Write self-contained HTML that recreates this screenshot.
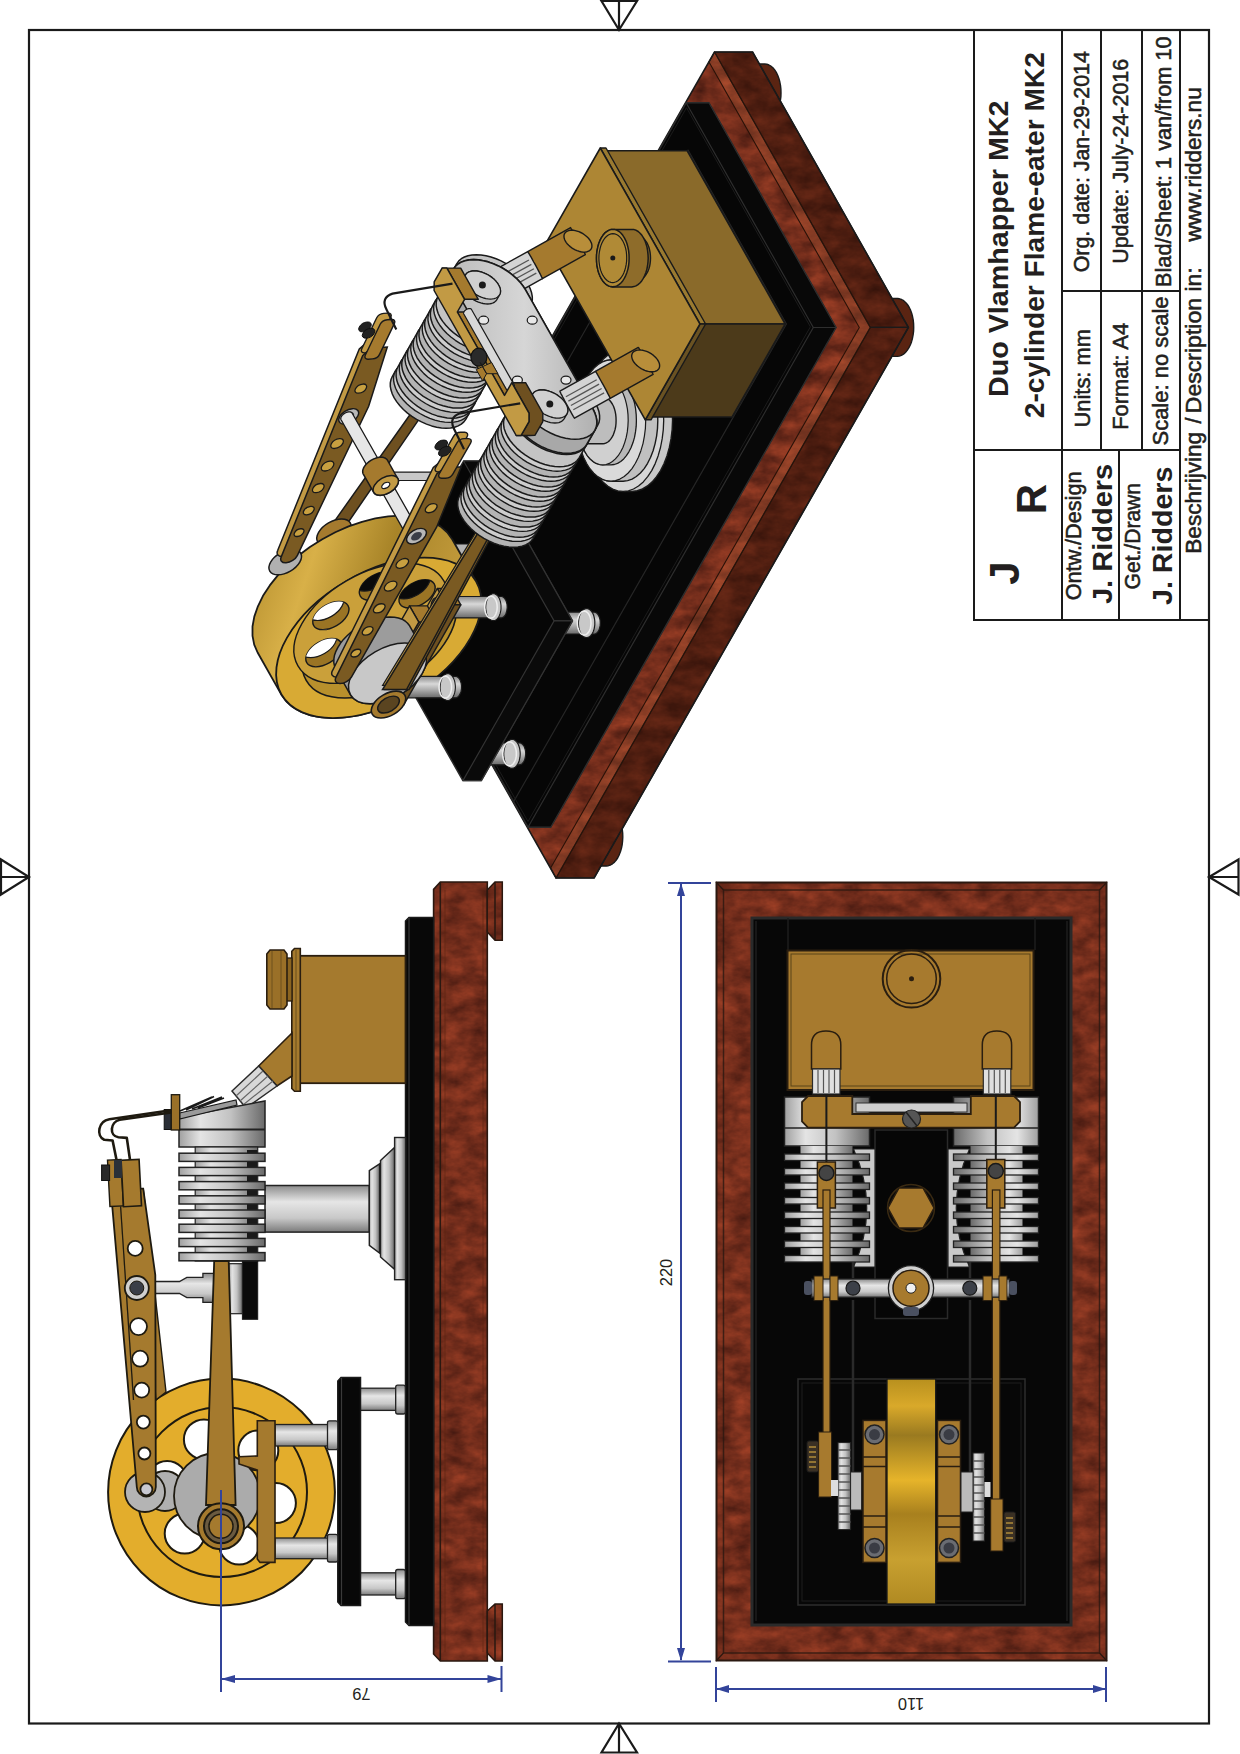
<!DOCTYPE html>
<html><head><meta charset="utf-8">
<style>
html,body{margin:0;padding:0;background:#fff;width:1240px;height:1754px;overflow:hidden}
svg{display:block;position:absolute;left:0;top:0}
#iso g *{vector-effect:non-scaling-stroke}
text{font-family:"Liberation Sans",sans-serif;fill:#231f20}
#tbtext text:not([font-weight]){stroke:#231f20;stroke-width:0.55px}
</style></head><body>
<svg width="1240" height="1754" viewBox="0 0 1240 1754">
<defs>
<filter id="wood" x="0" y="0" width="100%" height="100%" color-interpolation-filters="sRGB">
<feTurbulence type="fractalNoise" baseFrequency="0.045 0.07" numOctaves="4" seed="11" result="n"/>
<feColorMatrix in="n" type="matrix" values="0.42 0 0 0 0.25  0.18 0 0 0 0.09  0.1 0 0 0 0.06  0 0 0 0 1" result="c"/>
<feComposite in="c" in2="SourceAlpha" operator="in"/>
</filter>
<linearGradient id="silverH" x1="0" x2="1" y1="0" y2="0">
<stop offset="0" stop-color="#a0a0a0"/><stop offset="0.25" stop-color="#e4e4e4"/><stop offset="0.6" stop-color="#c2c2c2"/><stop offset="1" stop-color="#6a6a6a"/>
</linearGradient>
<linearGradient id="silverV" x1="0" x2="0" y1="0" y2="1">
<stop offset="0" stop-color="#8c8c8c"/><stop offset="0.35" stop-color="#e6e6e6"/><stop offset="0.7" stop-color="#c8c8c8"/><stop offset="1" stop-color="#7a7a7a"/>
</linearGradient>
<linearGradient id="brassFly" x1="0" x2="0" y1="0" y2="1">
<stop offset="0" stop-color="#b8901e"/><stop offset="0.12" stop-color="#d9a92a"/><stop offset="0.25" stop-color="#9a7a20"/><stop offset="0.45" stop-color="#e6b42a"/><stop offset="0.6" stop-color="#a8801e"/><stop offset="0.8" stop-color="#c8a030"/><stop offset="1" stop-color="#b08a22"/>
</linearGradient>
<linearGradient id="isoFly" x1="0" y1="0" x2="1" y2="0.3"><stop offset="0" stop-color="#b08a2a"/><stop offset="0.3" stop-color="#d8b048"/><stop offset="0.6" stop-color="#a88428"/><stop offset="1" stop-color="#c8a040"/></linearGradient>
<linearGradient id="isoSil" x1="0" y1="0" x2="0" y2="1"><stop offset="0" stop-color="#8a8a8a"/><stop offset="0.35" stop-color="#d8d8d8"/><stop offset="0.65" stop-color="#a8a8a8"/><stop offset="1" stop-color="#6a6a6a"/></linearGradient>
<linearGradient id="isoYoke" x1="0" y1="0" x2="1" y2="0"><stop offset="0" stop-color="#bdbdbd"/><stop offset="0.5" stop-color="#d6d6d6"/><stop offset="1" stop-color="#b0b0b0"/></linearGradient>
</defs>
<!-- FRAME -->
<g fill="none" stroke="#1a1a1a" stroke-width="2.2">
<rect x="29" y="30" width="1180" height="1693.5"/>
<!-- markers -->
<path d="M601.5,1 L637,1 L619,30 Z M619,1 L619,30"/>
<path d="M601.5,1752.5 L637,1752.5 L619,1723.5 Z M619,1752.5 L619,1723.5"/>
<path d="M1,859.5 L1,894.5 L29,877 Z M1,877 L29,877"/>
<path d="M1238.5,859.5 L1238.5,894.5 L1209,877 Z M1238.5,877 L1209,877"/>
</g>
<!-- VIEWS -->
<g id="iso">
<path d="M736.0,93.0 L736.1,89.2 L736.6,85.5 L737.3,81.9 L738.2,78.5 L739.4,75.3 L740.9,72.5 L742.5,70.0 L744.3,67.9 L746.2,66.2 L748.3,65.0 L750.4,64.2 L752.5,64.0 L764.7,64.0 L766.8,64.2 L768.9,65.0 L771.0,66.2 L772.9,67.8 L774.7,69.9 L776.3,72.4 L777.7,75.3 L778.9,78.4 L779.8,81.8 L780.5,85.4 L780.9,89.1 L781.0,92.9 L780.9,96.7 L780.4,100.4 L779.7,104.0 L778.8,107.3 L777.6,110.5 L776.1,113.3 L774.5,115.8 L772.7,118.0 L770.8,119.6 L768.7,120.9 L766.6,121.6 L764.5,121.9 L752.3,121.9 L750.2,121.6 L748.1,120.9 L746.0,119.7 L744.1,118.0 L742.3,115.9 L740.7,113.4 L739.3,110.6 L738.1,107.4 L737.2,104.0 L736.5,100.5 L736.1,96.8 Z" fill="#5a2412" stroke="#1a1a1a" stroke-width="1.4" stroke-linejoin="round"/>
<path d="M868.7,327.5 L868.8,323.7 L869.3,320.0 L870.0,316.4 L870.9,313.0 L872.1,309.9 L873.6,307.0 L875.2,304.5 L877.0,302.4 L878.9,300.7 L881.0,299.5 L883.1,298.8 L885.2,298.5 L897.4,298.5 L899.5,298.8 L901.6,299.5 L903.7,300.7 L905.6,302.4 L907.4,304.5 L909.0,307.0 L910.4,309.8 L911.6,312.9 L912.5,316.3 L913.2,319.9 L913.6,323.6 L913.7,327.4 L913.6,331.2 L913.1,334.9 L912.4,338.5 L911.5,341.9 L910.3,345.0 L908.8,347.9 L907.2,350.4 L905.4,352.5 L903.5,354.2 L901.4,355.4 L899.3,356.1 L897.2,356.4 L885.0,356.4 L882.9,356.1 L880.8,355.4 L878.7,354.2 L876.8,352.5 L875.0,350.4 L873.4,347.9 L872.0,345.1 L870.8,342.0 L869.9,338.6 L869.2,335.0 L868.8,331.3 Z" fill="#5a2412" stroke="#1a1a1a" stroke-width="1.4" stroke-linejoin="round"/>
<path d="M577.8,837.1 L577.9,833.3 L578.3,829.6 L579.0,826.0 L580.0,822.6 L581.2,819.5 L582.6,816.6 L584.3,814.1 L586.1,812.0 L588.0,810.3 L590.0,809.1 L592.2,808.4 L594.3,808.1 L606.5,808.1 L608.6,808.4 L610.7,809.1 L612.7,810.3 L614.7,812.0 L616.4,814.1 L618.0,816.6 L619.5,819.4 L620.6,822.5 L621.6,825.9 L622.3,829.5 L622.7,833.2 L622.8,837.0 L622.6,840.8 L622.2,844.5 L621.5,848.1 L620.5,851.5 L619.3,854.6 L617.9,857.5 L616.3,860.0 L614.5,862.1 L612.5,863.8 L610.5,865.0 L608.4,865.7 L606.2,866.0 L594.1,866.0 L592.0,865.8 L589.9,865.0 L587.8,863.8 L585.9,862.1 L584.1,860.0 L582.5,857.5 L581.1,854.7 L579.9,851.6 L579.0,848.2 L578.3,844.6 L577.9,840.9 Z" fill="#5a2412" stroke="#1a1a1a" stroke-width="1.4" stroke-linejoin="round"/>
<path d="M400.2,602.6 L714.5,52.0 L752.6,52.0 L908.4,327.4 L594.1,878.0 L556.0,878.0 Z" fill="#7a3418" filter="url(#wood)"/>
<path d="M714.5,52.0 L870.3,327.4 L908.4,327.4 L752.6,52.0 Z" fill="#1a0800" stroke="#1a1a1a" stroke-width="1.2" stroke-linejoin="round" fill-opacity="0.4"/>
<path d="M870.3,327.4 L556.0,878.0 L594.1,878.0 L908.4,327.4 Z" fill="#1a0800" stroke="#1a1a1a" stroke-width="1.2" stroke-linejoin="round" fill-opacity="0.4"/>
<path d="M709.0,61.9 L859.3,327.4 L550.6,868.1 L556.0,878.0 L870.3,327.4 L714.5,52.0 Z" fill="#e08050" stroke="#2a1208" stroke-width="1.1" stroke-linejoin="round" fill-opacity="0.18"/>
<path d="M400.2,602.6 L714.5,52.0 L752.6,52.0 L908.4,327.4 L594.1,878.0 L556.0,878.0 Z" fill="none" stroke="#1a1a1a" stroke-width="1.6"/>
<path d="M400.9,602.5 L686.1,102.8 L708.9,102.8 L836.0,327.5 L550.7,827.2 L528.0,827.2 Z" fill="#060606" stroke="#2a2a2a" stroke-width="1.5" stroke-linejoin="round"/>
<path d="M708.9,102.8 L836.0,327.5 L813.3,327.5 L686.1,102.8 Z" fill="#080808" stroke="#2e2e2e" stroke-width="1.2" stroke-linejoin="round"/>
<path d="M836.0,327.5 L550.7,827.2 L528.0,827.2 L813.3,327.5 Z" fill="#080808" stroke="#2e2e2e" stroke-width="1.2" stroke-linejoin="round"/>
<path d="M688.0,150.1 L786.4,324.0 L513.6,801.8 L415.2,627.9 Z" fill="none" stroke="#262626" stroke-width="1.2" stroke-linejoin="round"/>
<path d="M686.5,107.7 L810.4,326.8 L528.0,821.5 L404.1,602.5 Z" fill="none" stroke="#1c1c1c" stroke-width="1.0" stroke-linejoin="round"/>
<path d="M474.1,486.5 L474.1,485.0 L474.3,483.6 L474.6,482.2 L474.9,481.0 L475.4,479.8 L475.9,478.7 L476.5,477.7 L477.2,476.9 L477.9,476.3 L478.7,475.8 L479.5,475.6 L480.3,475.5 L516.8,475.5 L517.6,475.6 L518.4,475.8 L519.2,476.3 L519.9,476.9 L520.6,477.7 L521.2,478.7 L521.7,479.7 L522.2,480.9 L522.5,482.2 L522.8,483.6 L523.0,485.0 L523.0,486.4 L522.9,487.9 L522.8,489.3 L522.5,490.6 L522.1,491.9 L521.7,493.1 L521.1,494.2 L520.5,495.1 L519.8,495.9 L519.1,496.6 L518.3,497.0 L517.5,497.3 L516.7,497.4 L480.3,497.4 L479.4,497.3 L478.6,497.0 L477.9,496.6 L477.1,495.9 L476.5,495.2 L475.9,494.2 L475.3,493.1 L474.9,491.9 L474.5,490.7 L474.3,489.3 L474.1,487.9 Z" fill="url(#isoSil)" stroke="#1a1a1a" stroke-width="1.2" stroke-linejoin="round"/>
<path d="M515.1,496.6 L514.3,497.9 L513.4,499.0 L512.4,499.8 L511.4,500.4 L510.3,500.8 L509.3,500.9 L508.2,500.8 L507.1,500.4 L506.1,499.8 L505.1,499.0 L504.3,497.9 L503.5,496.7 L502.7,495.3 L502.2,493.7 L501.7,492.0 L501.3,490.2 L501.1,488.4 L501.1,486.5 L501.2,484.6 L501.4,482.7 L501.7,480.9 L502.2,479.2 L502.8,477.6 L503.5,476.2 L504.3,475.0 L505.2,473.9 L506.2,473.1 L507.2,472.5 L508.3,472.1 L509.4,472.0 L510.4,472.1 L511.5,472.5 L512.5,473.1 L513.5,473.9 L514.3,474.9 L515.2,476.2 L515.9,477.6 L516.5,479.2 L516.9,480.9 L517.3,482.7 L517.5,484.5 L517.5,486.4 L517.4,488.3 L517.2,490.2 L516.9,492.0 L516.4,493.6 L515.8,495.2 Z" fill="#c8c8c8" stroke="#1a1a1a" stroke-width="1.2" stroke-linejoin="round"/>
<path d="M511.7,494.9 L511.0,495.9 L510.2,496.8 L509.4,497.5 L508.6,498.0 L507.7,498.3 L506.8,498.4 L505.9,498.3 L505.1,498.0 L504.2,497.5 L503.4,496.8 L502.7,495.9 L502.0,494.9 L501.4,493.7 L501.0,492.4 L500.6,491.0 L500.3,489.6 L500.1,488.0 L500.1,486.5 L500.1,484.9 L500.3,483.4 L500.6,481.9 L501.0,480.5 L501.5,479.2 L502.1,478.0 L502.8,477.0 L503.5,476.1 L504.3,475.4 L505.2,474.9 L506.0,474.6 L506.9,474.5 L507.8,474.6 L508.7,474.9 L509.5,475.4 L510.3,476.1 L511.0,476.9 L511.7,478.0 L512.3,479.1 L512.8,480.4 L513.2,481.8 L513.5,483.3 L513.6,484.9 L513.7,486.4 L513.6,488.0 L513.4,489.5 L513.1,491.0 L512.7,492.4 L512.2,493.7 Z" fill="none" stroke="#eee" stroke-width="1.5" stroke-linejoin="round"/>
<path d="M551.4,623.1 L551.4,621.7 L551.6,620.2 L551.9,618.9 L552.2,617.6 L552.7,616.4 L553.2,615.3 L553.9,614.4 L554.5,613.6 L555.3,612.9 L556.0,612.5 L556.8,612.2 L557.6,612.1 L594.1,612.1 L594.9,612.2 L595.7,612.5 L596.5,612.9 L597.2,613.6 L597.9,614.4 L598.5,615.3 L599.0,616.4 L599.5,617.6 L599.8,618.9 L600.1,620.2 L600.2,621.6 L600.3,623.0 L600.2,624.5 L600.1,625.9 L599.8,627.2 L599.5,628.5 L599.0,629.7 L598.5,630.8 L597.8,631.8 L597.1,632.6 L596.4,633.2 L595.6,633.7 L594.8,634.0 L594.0,634.0 L557.6,634.0 L556.8,634.0 L556.0,633.7 L555.2,633.2 L554.5,632.6 L553.8,631.8 L553.2,630.9 L552.6,629.8 L552.2,628.6 L551.8,627.3 L551.6,625.9 L551.4,624.5 Z" fill="url(#isoSil)" stroke="#1a1a1a" stroke-width="1.2" stroke-linejoin="round"/>
<path d="M592.4,633.3 L591.6,634.5 L590.7,635.6 L589.7,636.4 L588.7,637.0 L587.6,637.4 L586.6,637.5 L585.5,637.4 L584.4,637.1 L583.4,636.4 L582.5,635.6 L581.6,634.6 L580.8,633.3 L580.1,631.9 L579.5,630.3 L579.0,628.6 L578.7,626.8 L578.5,625.0 L578.4,623.1 L578.5,621.2 L578.7,619.4 L579.0,617.6 L579.5,615.9 L580.1,614.3 L580.8,612.9 L581.6,611.6 L582.5,610.6 L583.5,609.7 L584.5,609.1 L585.6,608.7 L586.7,608.6 L587.7,608.7 L588.8,609.1 L589.8,609.7 L590.8,610.5 L591.7,611.6 L592.5,612.8 L593.2,614.2 L593.8,615.8 L594.2,617.5 L594.6,619.3 L594.8,621.2 L594.8,623.0 L594.8,624.9 L594.5,626.8 L594.2,628.6 L593.7,630.3 L593.1,631.9 Z" fill="#c8c8c8" stroke="#1a1a1a" stroke-width="1.2" stroke-linejoin="round"/>
<path d="M589.0,631.5 L588.3,632.6 L587.5,633.4 L586.7,634.1 L585.9,634.6 L585.0,634.9 L584.1,635.0 L583.3,634.9 L582.4,634.6 L581.5,634.1 L580.7,633.5 L580.0,632.6 L579.3,631.6 L578.8,630.4 L578.3,629.1 L577.9,627.7 L577.6,626.2 L577.4,624.7 L577.4,623.1 L577.4,621.5 L577.6,620.0 L577.9,618.5 L578.3,617.1 L578.8,615.8 L579.4,614.6 L580.1,613.6 L580.8,612.7 L581.6,612.0 L582.5,611.5 L583.3,611.2 L584.2,611.1 L585.1,611.2 L586.0,611.5 L586.8,612.0 L587.6,612.7 L588.4,613.6 L589.0,614.6 L589.6,615.8 L590.1,617.1 L590.5,618.5 L590.8,620.0 L590.9,621.5 L591.0,623.0 L590.9,624.6 L590.7,626.1 L590.5,627.6 L590.1,629.0 L589.6,630.3 Z" fill="none" stroke="#eee" stroke-width="1.5" stroke-linejoin="round"/>
<path d="M399.4,617.2 L399.5,615.8 L399.6,614.4 L399.9,613.0 L400.3,611.7 L400.7,610.5 L401.3,609.5 L401.9,608.5 L402.6,607.7 L403.3,607.1 L404.1,606.6 L404.9,606.3 L405.7,606.2 L442.1,606.2 L443.0,606.3 L443.8,606.6 L444.5,607.0 L445.3,607.7 L445.9,608.5 L446.6,609.4 L447.1,610.5 L447.5,611.7 L447.9,613.0 L448.1,614.3 L448.3,615.7 L448.4,617.2 L448.3,618.6 L448.1,620.0 L447.9,621.4 L447.5,622.7 L447.0,623.9 L446.5,624.9 L445.9,625.9 L445.2,626.7 L444.5,627.3 L443.7,627.8 L442.9,628.1 L442.1,628.2 L405.6,628.2 L404.8,628.1 L404.0,627.8 L403.2,627.3 L402.5,626.7 L401.8,625.9 L401.2,625.0 L400.7,623.9 L400.2,622.7 L399.9,621.4 L399.6,620.0 L399.5,618.6 Z" fill="url(#isoSil)" stroke="#1a1a1a" stroke-width="1.2" stroke-linejoin="round"/>
<path d="M440.4,627.4 L439.6,628.7 L438.7,629.7 L437.8,630.6 L436.7,631.2 L435.7,631.5 L434.6,631.7 L433.5,631.5 L432.5,631.2 L431.5,630.6 L430.5,629.7 L429.6,628.7 L428.8,627.4 L428.1,626.0 L427.5,624.5 L427.0,622.8 L426.7,621.0 L426.5,619.1 L426.4,617.2 L426.5,615.3 L426.7,613.5 L427.1,611.7 L427.6,610.0 L428.2,608.4 L428.9,607.0 L429.7,605.7 L430.6,604.7 L431.6,603.8 L432.6,603.2 L433.6,602.9 L434.7,602.7 L435.8,602.8 L436.8,603.2 L437.9,603.8 L438.8,604.7 L439.7,605.7 L440.5,606.9 L441.2,608.4 L441.8,609.9 L442.3,611.6 L442.6,613.4 L442.8,615.3 L442.9,617.2 L442.8,619.1 L442.6,620.9 L442.2,622.7 L441.8,624.4 L441.1,626.0 Z" fill="#c8c8c8" stroke="#1a1a1a" stroke-width="1.2" stroke-linejoin="round"/>
<path d="M437.0,625.6 L436.3,626.7 L435.6,627.6 L434.8,628.2 L433.9,628.8 L433.1,629.1 L432.2,629.2 L431.3,629.1 L430.4,628.8 L429.6,628.3 L428.8,627.6 L428.0,626.7 L427.4,625.7 L426.8,624.5 L426.3,623.2 L425.9,621.8 L425.6,620.3 L425.5,618.8 L425.4,617.2 L425.5,615.7 L425.7,614.1 L426.0,612.6 L426.4,611.2 L426.9,609.9 L427.4,608.7 L428.1,607.7 L428.9,606.8 L429.7,606.1 L430.5,605.6 L431.4,605.3 L432.3,605.2 L433.2,605.3 L434.0,605.6 L434.9,606.1 L435.7,606.8 L436.4,607.7 L437.1,608.7 L437.7,609.9 L438.1,611.2 L438.5,612.6 L438.8,614.1 L439.0,615.6 L439.0,617.2 L439.0,618.7 L438.8,620.3 L438.5,621.8 L438.1,623.2 L437.6,624.5 Z" fill="none" stroke="#eee" stroke-width="1.5" stroke-linejoin="round"/>
<path d="M476.7,753.9 L476.8,752.4 L476.9,751.0 L477.2,749.6 L477.6,748.4 L478.0,747.2 L478.6,746.1 L479.2,745.1 L479.9,744.3 L480.6,743.7 L481.4,743.2 L482.2,743.0 L483.0,742.9 L519.5,742.9 L520.3,742.9 L521.1,743.2 L521.8,743.7 L522.6,744.3 L523.2,745.1 L523.9,746.0 L524.4,747.1 L524.8,748.3 L525.2,749.6 L525.5,751.0 L525.6,752.4 L525.7,753.8 L525.6,755.2 L525.4,756.6 L525.2,758.0 L524.8,759.3 L524.3,760.5 L523.8,761.6 L523.2,762.5 L522.5,763.3 L521.8,764.0 L521.0,764.4 L520.2,764.7 L519.4,764.8 L482.9,764.8 L482.1,764.7 L481.3,764.4 L480.5,764.0 L479.8,763.3 L479.1,762.5 L478.5,761.6 L478.0,760.5 L477.6,759.3 L477.2,758.0 L476.9,756.7 L476.8,755.3 Z" fill="url(#isoSil)" stroke="#1a1a1a" stroke-width="1.2" stroke-linejoin="round"/>
<path d="M517.7,764.0 L516.9,765.3 L516.0,766.3 L515.1,767.2 L514.0,767.8 L513.0,768.2 L511.9,768.3 L510.8,768.2 L509.8,767.8 L508.8,767.2 L507.8,766.4 L506.9,765.3 L506.1,764.1 L505.4,762.7 L504.8,761.1 L504.3,759.4 L504.0,757.6 L503.8,755.7 L503.7,753.9 L503.8,752.0 L504.0,750.1 L504.4,748.3 L504.9,746.6 L505.5,745.0 L506.2,743.6 L507.0,742.4 L507.9,741.3 L508.9,740.5 L509.9,739.9 L510.9,739.5 L512.0,739.4 L513.1,739.5 L514.1,739.8 L515.2,740.5 L516.1,741.3 L517.0,742.3 L517.8,743.6 L518.5,745.0 L519.1,746.6 L519.6,748.3 L519.9,750.1 L520.1,751.9 L520.2,753.8 L520.1,755.7 L519.9,757.5 L519.5,759.3 L519.1,761.0 L518.5,762.6 Z" fill="#c8c8c8" stroke="#1a1a1a" stroke-width="1.2" stroke-linejoin="round"/>
<path d="M514.3,762.3 L513.6,763.3 L512.9,764.2 L512.1,764.9 L511.3,765.4 L510.4,765.7 L509.5,765.8 L508.6,765.7 L507.7,765.4 L506.9,764.9 L506.1,764.2 L505.4,763.3 L504.7,762.3 L504.1,761.1 L503.6,759.8 L503.2,758.4 L503.0,756.9 L502.8,755.4 L502.7,753.9 L502.8,752.3 L503.0,750.8 L503.3,749.3 L503.7,747.9 L504.2,746.6 L504.8,745.4 L505.4,744.3 L506.2,743.5 L507.0,742.8 L507.8,742.3 L508.7,742.0 L509.6,741.9 L510.5,742.0 L511.3,742.3 L512.2,742.8 L513.0,743.4 L513.7,744.3 L514.4,745.3 L515.0,746.5 L515.4,747.8 L515.8,749.2 L516.1,750.7 L516.3,752.2 L516.3,753.8 L516.3,755.4 L516.1,756.9 L515.8,758.4 L515.4,759.8 L514.9,761.1 Z" fill="none" stroke="#eee" stroke-width="1.5" stroke-linejoin="round"/>
<path d="M372.4,620.8 L463.6,461.0 L482.0,461.0 L572.5,620.9 L481.3,780.6 L462.9,780.6 Z" fill="#060606" stroke="#2a2a2a" stroke-width="1.5" stroke-linejoin="round"/>
<path d="M482.0,461.0 L572.5,620.9 L554.1,620.9 L463.6,461.0 Z" fill="#0a0a0a" stroke="#333" stroke-width="1.2" stroke-linejoin="round"/>
<path d="M572.5,620.9 L481.3,780.6 L462.9,780.6 L554.1,620.9 Z" fill="#0a0a0a" stroke="#333" stroke-width="1.2" stroke-linejoin="round"/>
<path d="M583.0,420.6 L583.4,411.4 L584.5,402.3 L586.2,393.5 L588.5,385.1 L591.5,377.4 L595.0,370.4 L599.0,364.3 L603.4,359.1 L608.1,355.0 L613.1,352.0 L618.3,350.2 L623.6,349.6 L632.5,349.6 L637.8,350.1 L642.9,351.9 L647.9,354.9 L652.6,359.0 L657.0,364.1 L660.9,370.2 L664.4,377.2 L667.3,384.9 L669.6,393.2 L671.3,402.0 L672.3,411.1 L672.6,420.4 L672.2,429.6 L671.1,438.7 L669.4,447.5 L667.0,455.9 L664.1,463.6 L660.6,470.6 L656.6,476.7 L652.2,481.9 L647.5,486.0 L642.5,489.0 L637.3,490.8 L632.0,491.4 L623.1,491.4 L617.8,490.9 L612.7,489.1 L607.7,486.1 L603.0,482.0 L598.6,476.9 L594.7,470.8 L591.2,463.8 L588.3,456.1 L586.0,447.8 L584.3,439.0 L583.3,429.9 Z" fill="#c8c8c8" stroke="#1a1a1a" stroke-width="1.5" stroke-linejoin="round"/>
<path d="M651.7,470.6 L647.7,476.7 L643.3,481.9 L638.5,486.0 L633.5,489.0 L628.4,490.8 L623.1,491.4 L617.8,490.8 L612.7,489.1 L607.7,486.1 L603.0,482.0 L598.6,476.9 L594.7,470.8 L591.2,463.8 L588.3,456.1 L586.0,447.8 L584.3,439.0 L583.3,429.9 L583.0,420.6 L583.4,411.4 L584.5,402.3 L586.2,393.5 L588.6,385.1 L591.5,377.4 L595.0,370.4 L599.0,364.3 L603.4,359.1 L608.1,355.0 L613.2,352.0 L618.3,350.2 L623.6,349.6 L628.9,350.1 L634.0,351.9 L639.0,354.9 L643.7,359.0 L648.1,364.1 L652.0,370.2 L655.5,377.2 L658.4,384.9 L660.7,393.2 L662.4,402.0 L663.4,411.1 L663.7,420.4 L663.3,429.6 L662.2,438.7 L660.5,447.5 L658.1,455.9 L655.2,463.6 Z" fill="#d6d6d6" stroke="#1a1a1a" stroke-width="1.3" stroke-linejoin="round"/>
<path d="M576.7,420.6 L577.0,412.7 L578.0,404.9 L579.4,397.4 L581.4,390.3 L584.0,383.6 L587.0,377.7 L590.4,372.4 L594.1,368.0 L598.2,364.5 L602.5,361.9 L606.9,360.4 L611.4,359.8 L623.6,359.8 L628.1,360.3 L632.5,361.9 L636.7,364.4 L640.8,367.9 L644.5,372.3 L647.9,377.5 L650.8,383.5 L653.3,390.1 L655.3,397.2 L656.7,404.7 L657.6,412.5 L657.8,420.4 L657.5,428.3 L656.6,436.1 L655.1,443.6 L653.1,450.7 L650.6,457.3 L647.6,463.3 L644.2,468.6 L640.4,473.0 L636.3,476.5 L632.1,479.1 L627.6,480.6 L623.1,481.2 L611.0,481.2 L606.5,480.7 L602.1,479.1 L597.8,476.6 L593.8,473.1 L590.0,468.7 L586.7,463.5 L583.7,457.5 L581.2,450.9 L579.3,443.8 L577.8,436.3 L577.0,428.5 Z" fill="#c0c0c0" stroke="#1a1a1a" stroke-width="1.4" stroke-linejoin="round"/>
<path d="M635.4,463.3 L632.0,468.6 L628.2,473.0 L624.2,476.5 L619.9,479.1 L615.5,480.6 L611.0,481.2 L606.5,480.7 L602.1,479.1 L597.8,476.6 L593.8,473.1 L590.0,468.7 L586.7,463.5 L583.7,457.5 L581.2,450.9 L579.3,443.8 L577.8,436.3 L577.0,428.5 L576.7,420.6 L577.0,412.7 L577.9,404.9 L579.4,397.4 L581.4,390.3 L584.0,383.7 L587.0,377.7 L590.4,372.4 L594.1,368.0 L598.2,364.5 L602.5,361.9 L606.9,360.4 L611.4,359.8 L615.9,360.3 L620.3,361.9 L624.6,364.4 L628.6,367.9 L632.4,372.3 L635.7,377.5 L638.7,383.5 L641.2,390.1 L643.1,397.2 L644.6,404.7 L645.4,412.5 L645.7,420.4 L645.4,428.3 L644.4,436.1 L643.0,443.6 L640.9,450.7 L638.4,457.3 Z" fill="#dadada" stroke="#1a1a1a" stroke-width="1.2" stroke-linejoin="round"/>
<path d="M577.7,420.6 L577.9,414.8 L578.6,409.1 L579.7,403.6 L581.2,398.4 L583.0,393.5 L585.2,389.2 L587.7,385.3 L590.5,382.1 L593.4,379.5 L596.5,377.6 L599.8,376.5 L603.1,376.1 L611.4,376.1 L614.6,376.5 L617.9,377.6 L621.0,379.4 L624.0,382.0 L626.7,385.2 L629.1,389.0 L631.3,393.4 L633.1,398.2 L634.6,403.4 L635.6,408.9 L636.2,414.6 L636.4,420.4 L636.2,426.2 L635.5,431.9 L634.5,437.4 L633.0,442.6 L631.1,447.5 L628.9,451.8 L626.4,455.7 L623.7,458.9 L620.7,461.5 L617.6,463.4 L614.3,464.5 L611.0,464.9 L602.8,464.9 L599.5,464.5 L596.2,463.4 L593.1,461.6 L590.2,459.0 L587.5,455.8 L585.0,451.9 L582.8,447.6 L581.0,442.8 L579.6,437.6 L578.5,432.1 L577.9,426.4 Z" fill="#b8b8b8" stroke="#1a1a1a" stroke-width="1.3" stroke-linejoin="round"/>
<path d="M620.7,451.8 L618.2,455.7 L615.4,458.9 L612.4,461.5 L609.3,463.4 L606.1,464.5 L602.8,464.9 L599.5,464.5 L596.2,463.4 L593.1,461.5 L590.2,459.0 L587.4,455.8 L585.0,451.9 L582.8,447.6 L581.0,442.8 L579.6,437.6 L578.5,432.1 L577.9,426.4 L577.7,420.6 L577.9,414.8 L578.6,409.1 L579.7,403.6 L581.2,398.4 L583.0,393.5 L585.2,389.2 L587.7,385.3 L590.5,382.1 L593.4,379.5 L596.6,377.6 L599.8,376.5 L603.1,376.1 L606.4,376.5 L609.6,377.6 L612.7,379.4 L615.7,382.0 L618.4,385.2 L620.9,389.0 L623.1,393.4 L624.9,398.2 L626.3,403.4 L627.4,408.9 L628.0,414.6 L628.2,420.4 L627.9,426.2 L627.3,431.9 L626.2,437.4 L624.7,442.6 L622.9,447.5 Z" fill="#d0d0d0" stroke="#1a1a1a" stroke-width="1.2" stroke-linejoin="round"/>
<path d="M505.5,420.5 L505.6,417.5 L505.9,414.5 L506.5,411.6 L507.3,408.9 L508.3,406.4 L509.4,404.1 L510.7,402.1 L512.2,400.4 L513.7,399.0 L515.4,398.1 L517.0,397.4 L518.8,397.2 L603.0,397.2 L604.7,397.4 L606.4,398.0 L608.1,399.0 L609.6,400.3 L611.0,402.0 L612.3,404.0 L613.5,406.3 L614.4,408.8 L615.2,411.6 L615.7,414.4 L616.0,417.4 L616.1,420.5 L616.0,423.5 L615.7,426.5 L615.1,429.4 L614.3,432.1 L613.4,434.6 L612.2,436.9 L610.9,438.9 L609.5,440.6 L607.9,442.0 L606.3,442.9 L604.6,443.5 L602.9,443.8 L518.6,443.8 L516.9,443.6 L515.2,443.0 L513.6,442.0 L512.0,440.6 L510.6,439.0 L509.3,437.0 L508.2,434.7 L507.2,432.2 L506.4,429.4 L505.9,426.6 L505.6,423.6 Z" fill="#bdbdbd" stroke="#1a1a1a" stroke-width="1.4" stroke-linejoin="round"/>
<path d="M687.2,150.8 L785.2,324.0 L704.0,324.0 L606.0,150.8 Z" fill="#8a6a2a" stroke="#1a1a1a" stroke-width="1.6" stroke-linejoin="round"/>
<path d="M785.2,324.0 L732.1,417.0 L651.0,417.0 L704.0,324.0 Z" fill="#4c3a1a" stroke="#1a1a1a" stroke-width="1.6" stroke-linejoin="round"/>
<path d="M606.0,148.0 L705.6,324.0 L700.0,324.0 L600.3,148.0 Z" fill="#9a7a30" stroke="#1a1a1a" stroke-width="1.4" stroke-linejoin="round"/>
<path d="M705.6,324.0 L651.0,419.8 L645.3,419.8 L700.0,324.0 Z" fill="#6a5222" stroke="#1a1a1a" stroke-width="1.4" stroke-linejoin="round"/>
<path d="M600.3,148.0 L700.0,324.0 L645.3,419.8 L545.7,243.7 Z" fill="#ad8634" stroke="#1a1a1a" stroke-width="1.6" stroke-linejoin="round"/>
<path d="M619.7,258.1 L619.8,255.3 L620.1,252.6 L620.6,249.9 L621.3,247.4 L622.2,245.1 L623.3,243.0 L624.5,241.1 L625.8,239.6 L627.2,238.3 L628.8,237.4 L630.3,236.8 L631.9,236.7 L638.4,236.7 L640.0,236.8 L641.6,237.4 L643.1,238.3 L644.5,239.5 L645.8,241.1 L647.0,242.9 L648.0,245.0 L648.9,247.3 L649.6,249.9 L650.1,252.5 L650.4,255.3 L650.5,258.1 L650.4,260.9 L650.1,263.6 L649.6,266.3 L648.9,268.8 L648.0,271.1 L646.9,273.2 L645.7,275.1 L644.4,276.7 L642.9,277.9 L641.4,278.8 L639.8,279.4 L638.2,279.6 L631.8,279.6 L630.2,279.4 L628.6,278.8 L627.1,277.9 L625.7,276.7 L624.4,275.1 L623.2,273.3 L622.1,271.2 L621.2,268.9 L620.5,266.4 L620.0,263.7 L619.8,260.9 Z" fill="#8a6a28" stroke="#1a1a1a" stroke-width="1.4" stroke-linejoin="round"/>
<path d="M596.5,258.2 L596.6,254.4 L597.1,250.7 L597.8,247.2 L598.7,243.8 L599.9,240.7 L601.3,237.8 L603.0,235.3 L604.7,233.2 L606.7,231.6 L608.7,230.4 L610.8,229.6 L612.9,229.4 L632.0,229.4 L634.1,229.6 L636.2,230.3 L638.2,231.5 L640.1,233.2 L641.9,235.3 L643.5,237.8 L644.9,240.6 L646.0,243.7 L647.0,247.1 L647.6,250.6 L648.0,254.3 L648.2,258.1 L648.0,261.8 L647.6,265.5 L646.9,269.1 L645.9,272.4 L644.7,275.6 L643.3,278.4 L641.7,280.9 L639.9,283.0 L638.0,284.6 L636.0,285.9 L633.9,286.6 L631.8,286.9 L612.7,286.9 L610.6,286.6 L608.5,285.9 L606.5,284.7 L604.6,283.0 L602.8,280.9 L601.2,278.5 L599.8,275.6 L598.6,272.5 L597.7,269.1 L597.0,265.6 L596.6,261.9 Z" fill="#8e6c2a" stroke="#1a1a1a" stroke-width="1.5" stroke-linejoin="round"/>
<path d="M624.3,278.4 L622.7,280.9 L620.9,283.0 L619.0,284.6 L616.9,285.9 L614.8,286.6 L612.7,286.8 L610.6,286.6 L608.5,285.9 L606.5,284.7 L604.6,283.0 L602.8,280.9 L601.2,278.5 L599.8,275.6 L598.6,272.5 L597.7,269.2 L597.0,265.6 L596.6,261.9 L596.5,258.2 L596.6,254.4 L597.1,250.7 L597.8,247.2 L598.7,243.8 L599.9,240.7 L601.3,237.8 L603.0,235.3 L604.7,233.2 L606.7,231.6 L608.7,230.4 L610.8,229.6 L612.9,229.4 L615.0,229.6 L617.1,230.3 L619.2,231.5 L621.1,233.2 L622.8,235.3 L624.4,237.8 L625.8,240.6 L627.0,243.7 L627.9,247.1 L628.6,250.6 L629.0,254.3 L629.1,258.1 L629.0,261.8 L628.6,265.5 L627.9,269.1 L626.9,272.4 L625.7,275.6 Z" fill="#b08a36" stroke="#1a1a1a" stroke-width="1.5" stroke-linejoin="round"/>
<path d="M622.6,275.4 L621.2,277.5 L619.7,279.3 L618.0,280.7 L616.3,281.7 L614.5,282.3 L612.7,282.6 L610.9,282.4 L609.1,281.7 L607.4,280.7 L605.8,279.3 L604.3,277.5 L602.9,275.4 L601.7,273.0 L600.7,270.4 L599.9,267.5 L599.4,264.5 L599.0,261.3 L598.9,258.2 L599.0,255.0 L599.4,251.8 L600.0,248.8 L600.8,245.9 L601.8,243.3 L603.0,240.9 L604.4,238.7 L605.9,237.0 L607.6,235.5 L609.3,234.5 L611.1,233.9 L612.9,233.7 L614.7,233.9 L616.5,234.5 L618.2,235.5 L619.8,236.9 L621.3,238.7 L622.7,240.8 L623.9,243.2 L624.9,245.8 L625.7,248.7 L626.3,251.7 L626.6,254.9 L626.7,258.1 L626.6,261.3 L626.2,264.4 L625.6,267.4 L624.8,270.3 L623.8,273.0 Z" fill="none" stroke="#1a1a1a" stroke-width="1.2" stroke-linejoin="round"/>
<circle cx="612.8" cy="258.1" r="2.5" fill="#1a1a1a"/>
<path d="M414.4,554.7 L414.5,553.3 L414.6,552.0 L414.9,550.6 L415.2,549.4 L415.7,548.2 L416.2,547.1 L416.8,546.2 L417.5,545.4 L418.2,544.8 L419.0,544.4 L419.8,544.1 L420.6,544.0 L471.4,544.0 L472.2,544.1 L473.0,544.3 L473.8,544.8 L474.5,545.4 L475.1,546.2 L475.7,547.1 L476.2,548.2 L476.7,549.3 L477.0,550.6 L477.3,551.9 L477.4,553.3 L477.5,554.7 L477.4,556.1 L477.3,557.5 L477.0,558.8 L476.6,560.0 L476.2,561.2 L475.7,562.3 L475.1,563.2 L474.4,564.0 L473.7,564.6 L472.9,565.1 L472.1,565.3 L471.3,565.4 L420.5,565.4 L419.7,565.3 L418.9,565.1 L418.1,564.6 L417.4,564.0 L416.8,563.2 L416.2,562.3 L415.6,561.2 L415.2,560.1 L414.9,558.8 L414.6,557.5 L414.5,556.1 Z" fill="#b4b4b4" stroke="#1a1a1a" stroke-width="1.2" stroke-linejoin="round"/>
<path d="M368.8,634.7 L368.8,633.3 L369.0,631.9 L369.3,630.6 L369.6,629.3 L370.1,628.1 L370.6,627.1 L371.2,626.1 L371.9,625.4 L372.6,624.7 L373.3,624.3 L374.1,624.0 L374.9,623.9 L425.8,623.9 L426.6,624.0 L427.4,624.3 L428.1,624.7 L428.8,625.3 L429.5,626.1 L430.1,627.0 L430.6,628.1 L431.0,629.3 L431.4,630.5 L431.6,631.9 L431.8,633.2 L431.8,634.6 L431.8,636.0 L431.6,637.4 L431.4,638.7 L431.0,640.0 L430.6,641.2 L430.0,642.2 L429.4,643.1 L428.8,643.9 L428.0,644.5 L427.3,645.0 L426.5,645.3 L425.7,645.4 L374.8,645.4 L374.0,645.3 L373.3,645.0 L372.5,644.6 L371.8,643.9 L371.1,643.2 L370.5,642.2 L370.0,641.2 L369.6,640.0 L369.2,638.8 L369.0,637.4 L368.8,636.1 Z" fill="#b4b4b4" stroke="#1a1a1a" stroke-width="1.2" stroke-linejoin="round"/>
<path d="M421.9,536.1 L431.1,552.3 L416.8,552.3 L407.6,536.1 Z" fill="#a57a2e" stroke="#1a1a1a" stroke-width="1.4" stroke-linejoin="round"/><path d="M431.1,552.3 L373.9,652.6 L359.5,652.6 L416.8,552.3 Z" fill="#6e5020" stroke="#1a1a1a" stroke-width="1.4" stroke-linejoin="round"/><path d="M407.6,536.1 L416.8,552.3 L359.5,652.6 L350.3,636.4 Z" fill="#c29a44" stroke="#1a1a1a" stroke-width="1.4" stroke-linejoin="round"/>
<g transform="matrix(0.81,0,-0.4035,0.7068,757.63,-493.93)"><path d="M214.2,1261 H228.7 L210,1445 H192 Z" fill="#6e5020" stroke="#1a1a1a" stroke-width="1.5"/><circle cx="200.3" cy="1452" r="19" fill="#a57a2e" stroke="#1a1a1a" stroke-width="1.5"/></g>
<path d="M252.5,635.9 L252.5,626.5 L254.3,616.6 L257.9,606.3 L263.0,595.8 L269.8,585.4 L278.0,575.1 L287.6,565.2 L298.2,555.8 L309.9,547.0 L322.3,539.2 L335.3,532.2 L348.6,526.4 L362.0,521.8 L375.3,518.4 L388.3,516.4 L400.6,515.7 L412.2,516.4 L422.9,518.4 L432.3,521.8 L440.4,526.4 L447.1,532.2 L452.2,539.2 L476.0,581.2 L479.4,589.1 L481.1,597.8 L481.1,607.2 L479.2,617.1 L475.7,627.4 L470.5,637.9 L463.8,648.3 L455.6,658.6 L446.0,668.6 L435.4,678.0 L423.7,686.7 L411.3,694.6 L398.3,701.5 L385.0,707.3 L371.6,711.9 L358.3,715.3 L345.3,717.4 L332.9,718.0 L321.3,717.4 L310.7,715.3 L301.3,711.9 L293.1,707.3 L286.5,701.5 L281.4,694.6 L257.6,652.5 L254.2,644.6 Z" fill="url(#isoFly)" stroke="#1a1a1a" stroke-width="1.8" stroke-linejoin="round"/>
<g transform="matrix(0.81,0,-0.4035,0.7068,801.35,-416.67)"><circle cx="221.5" cy="1492" r="113.4" fill="#d8aa34" stroke="#1a1a1a" stroke-width="1.8"/><circle cx="222" cy="1492" r="85" fill="#b8902c" stroke="#1a1a1a" stroke-width="1.6"/></g>
<g transform="matrix(0.81,0,-0.4035,0.7068,793.10,-431.24)"><circle cx="222" cy="1492" r="85" fill="#caa03a" stroke="#1a1a1a" stroke-width="1.4"/><g fill="#9a7424" stroke="#1a1a1a" stroke-width="1.4"><circle cx="275.9" cy="1503.1" r="20"/><circle cx="239.1" cy="1544.6" r="20"/><circle cx="184.7" cy="1533.6" r="20"/><circle cx="167.1" cy="1481" r="20"/><circle cx="203.9" cy="1439.4" r="20"/><circle cx="258.3" cy="1450.4" r="20"/></g></g>
<clipPath id="flyHoles"><circle transform="matrix(0.81,0,-0.4035,0.7068,793.10,-431.24)" cx="275.9" cy="1503.1" r="20"/><circle transform="matrix(0.81,0,-0.4035,0.7068,793.10,-431.24)" cx="239.1" cy="1544.6" r="20"/><circle transform="matrix(0.81,0,-0.4035,0.7068,793.10,-431.24)" cx="184.7" cy="1533.6" r="20"/><circle transform="matrix(0.81,0,-0.4035,0.7068,793.10,-431.24)" cx="167.1" cy="1481" r="20"/><circle transform="matrix(0.81,0,-0.4035,0.7068,793.10,-431.24)" cx="203.9" cy="1439.4" r="20"/><circle transform="matrix(0.81,0,-0.4035,0.7068,793.10,-431.24)" cx="258.3" cy="1450.4" r="20"/></clipPath>
<g clip-path="url(#flyHoles)"><g transform="matrix(0.81,0,-0.4035,0.7068,787.92,-440.40)"><g fill="#0a0a0a" stroke="#1a1a1a" stroke-width="1.2"><circle cx="275.9" cy="1503.1" r="20"/><circle cx="239.1" cy="1544.6" r="20"/><circle cx="184.7" cy="1533.6" r="20" fill="#fff"/><circle cx="167.1" cy="1481" r="20" fill="#fff"/><circle cx="203.9" cy="1439.4" r="20"/><circle cx="258.3" cy="1450.4" r="20"/></g></g></g>
<path d="M444.1,607.2 L444.2,605.8 L444.3,604.4 L444.6,603.1 L444.9,601.8 L445.4,600.7 L445.9,599.6 L446.5,598.7 L447.2,597.9 L447.9,597.3 L448.7,596.8 L449.4,596.5 L450.2,596.5 L501.1,596.5 L501.9,596.5 L502.7,596.8 L503.4,597.3 L504.1,597.9 L504.8,598.6 L505.4,599.6 L505.9,600.6 L506.4,601.8 L506.7,603.0 L507.0,604.4 L507.1,605.8 L507.2,607.2 L507.1,608.6 L506.9,609.9 L506.7,611.3 L506.3,612.5 L505.9,613.7 L505.4,614.8 L504.8,615.7 L504.1,616.5 L503.4,617.1 L502.6,617.5 L501.8,617.8 L501.0,617.9 L450.2,617.9 L449.4,617.8 L448.6,617.5 L447.8,617.1 L447.1,616.5 L446.5,615.7 L445.9,614.8 L445.3,613.7 L444.9,612.5 L444.6,611.3 L444.3,610.0 L444.1,608.6 Z" fill="url(#isoSil)" stroke="#1a1a1a" stroke-width="1.2" stroke-linejoin="round"/>
<path d="M498.8,616.7 L498.0,617.8 L497.2,618.8 L496.3,619.6 L495.3,620.2 L494.3,620.5 L493.3,620.6 L492.3,620.5 L491.3,620.2 L490.4,619.6 L489.5,618.9 L488.7,617.9 L487.9,616.7 L487.3,615.4 L486.7,613.9 L486.3,612.4 L486.0,610.7 L485.8,609.0 L485.7,607.2 L485.8,605.4 L486.0,603.7 L486.3,602.0 L486.8,600.5 L487.3,599.0 L488.0,597.7 L488.8,596.5 L489.6,595.5 L490.5,594.7 L491.4,594.2 L492.4,593.8 L493.4,593.7 L494.4,593.8 L495.4,594.2 L496.3,594.7 L497.2,595.5 L498.1,596.5 L498.8,597.6 L499.5,599.0 L500.0,600.4 L500.5,602.0 L500.8,603.7 L501.0,605.4 L501.0,607.2 L501.0,608.9 L500.8,610.6 L500.4,612.3 L500.0,613.9 L499.4,615.4 Z" fill="#c8c8c8" stroke="#1a1a1a" stroke-width="1.1" stroke-linejoin="round"/>
<path d="M495.3,614.9 L494.7,615.9 L494.0,616.7 L493.3,617.3 L492.5,617.8 L491.7,618.1 L490.9,618.2 L490.1,618.1 L489.3,617.8 L488.5,617.3 L487.8,616.7 L487.1,615.9 L486.5,614.9 L486.0,613.9 L485.5,612.7 L485.2,611.4 L484.9,610.0 L484.8,608.6 L484.7,607.2 L484.8,605.8 L484.9,604.4 L485.2,603.0 L485.6,601.7 L486.0,600.5 L486.6,599.4 L487.2,598.5 L487.9,597.7 L488.6,597.0 L489.4,596.6 L490.2,596.3 L491.0,596.2 L491.8,596.3 L492.6,596.6 L493.4,597.0 L494.1,597.7 L494.8,598.5 L495.4,599.4 L495.9,600.5 L496.4,601.7 L496.7,603.0 L497.0,604.3 L497.1,605.7 L497.2,607.2 L497.1,608.6 L497.0,610.0 L496.7,611.4 L496.3,612.6 L495.9,613.8 Z" fill="none" stroke="#eee" stroke-width="1.5" stroke-linejoin="round"/>
<path d="M398.5,687.1 L398.5,685.7 L398.7,684.4 L398.9,683.0 L399.3,681.8 L399.8,680.6 L400.3,679.5 L400.9,678.6 L401.6,677.8 L402.3,677.2 L403.0,676.8 L403.8,676.5 L404.6,676.4 L455.5,676.4 L456.3,676.5 L457.1,676.8 L457.8,677.2 L458.5,677.8 L459.2,678.6 L459.8,679.5 L460.3,680.6 L460.7,681.7 L461.1,683.0 L461.3,684.3 L461.5,685.7 L461.5,687.1 L461.5,688.5 L461.3,689.9 L461.1,691.2 L460.7,692.5 L460.2,693.6 L459.7,694.7 L459.1,695.6 L458.4,696.4 L457.7,697.0 L457.0,697.5 L456.2,697.8 L455.4,697.8 L404.5,697.8 L403.7,697.8 L402.9,697.5 L402.2,697.0 L401.5,696.4 L400.8,695.6 L400.2,694.7 L399.7,693.7 L399.3,692.5 L398.9,691.2 L398.7,689.9 L398.5,688.5 Z" fill="url(#isoSil)" stroke="#1a1a1a" stroke-width="1.2" stroke-linejoin="round"/>
<path d="M453.1,696.6 L452.4,697.8 L451.5,698.8 L450.6,699.5 L449.7,700.1 L448.7,700.5 L447.7,700.6 L446.7,700.5 L445.7,700.1 L444.8,699.6 L443.9,698.8 L443.0,697.8 L442.3,696.7 L441.6,695.3 L441.1,693.9 L440.6,692.3 L440.3,690.6 L440.1,688.9 L440.1,687.1 L440.2,685.4 L440.4,683.7 L440.7,682.0 L441.1,680.4 L441.7,678.9 L442.4,677.6 L443.1,676.4 L444.0,675.5 L444.9,674.7 L445.8,674.1 L446.8,673.8 L447.8,673.6 L448.8,673.8 L449.8,674.1 L450.7,674.7 L451.6,675.4 L452.4,676.4 L453.2,677.6 L453.8,678.9 L454.4,680.4 L454.8,681.9 L455.1,683.6 L455.3,685.3 L455.4,687.1 L455.3,688.8 L455.1,690.6 L454.8,692.2 L454.3,693.8 L453.8,695.3 Z" fill="#c8c8c8" stroke="#1a1a1a" stroke-width="1.1" stroke-linejoin="round"/>
<path d="M449.7,694.9 L449.1,695.8 L448.4,696.6 L447.7,697.2 L446.9,697.7 L446.1,698.0 L445.3,698.1 L444.5,698.0 L443.7,697.7 L442.9,697.3 L442.2,696.6 L441.5,695.8 L440.9,694.9 L440.3,693.8 L439.9,692.6 L439.5,691.3 L439.3,690.0 L439.1,688.6 L439.1,687.1 L439.1,685.7 L439.3,684.3 L439.6,682.9 L439.9,681.6 L440.4,680.4 L440.9,679.4 L441.5,678.4 L442.2,677.6 L443.0,677.0 L443.7,676.5 L444.5,676.2 L445.3,676.1 L446.2,676.2 L447.0,676.5 L447.7,677.0 L448.5,677.6 L449.1,678.4 L449.7,679.3 L450.3,680.4 L450.7,681.6 L451.1,682.9 L451.3,684.3 L451.5,685.7 L451.5,687.1 L451.5,688.5 L451.3,689.9 L451.1,691.3 L450.7,692.6 L450.2,693.8 Z" fill="none" stroke="#eee" stroke-width="1.5" stroke-linejoin="round"/>
<path d="M451.6,588.5 L460.8,604.8 L446.5,604.8 L437.3,588.5 Z" fill="#a57a2e" stroke="#1a1a1a" stroke-width="1.4" stroke-linejoin="round"/><path d="M460.8,604.8 L403.6,705.1 L389.2,705.1 L446.5,604.8 Z" fill="#6e5020" stroke="#1a1a1a" stroke-width="1.4" stroke-linejoin="round"/><path d="M437.3,588.5 L446.5,604.8 L389.2,705.1 L380.0,688.8 Z" fill="#c29a44" stroke="#1a1a1a" stroke-width="1.4" stroke-linejoin="round"/>
<path d="M427.4,605.9 L436.6,622.2 L418.8,622.2 L409.5,605.9 Z" fill="#a57a2e" stroke="#1a1a1a" stroke-width="1.4" stroke-linejoin="round"/><path d="M436.6,622.2 L424.5,643.4 L406.6,643.4 L418.8,622.2 Z" fill="#6e5020" stroke="#1a1a1a" stroke-width="1.4" stroke-linejoin="round"/><path d="M409.5,605.9 L418.8,622.2 L406.6,643.4 L397.4,627.1 Z" fill="#c29a44" stroke="#1a1a1a" stroke-width="1.4" stroke-linejoin="round"/>
<path d="M439.7,613.0 L439.2,613.8 L438.7,614.4 L438.1,615.0 L437.4,615.3 L436.8,615.6 L436.1,615.7 L435.4,615.6 L434.8,615.4 L434.2,615.0 L433.6,614.5 L433.0,613.8 L432.5,613.0 L432.1,612.2 L431.7,611.2 L431.4,610.1 L431.2,609.0 L431.1,607.9 L431.0,606.7 L431.1,605.5 L431.2,604.4 L431.4,603.3 L431.7,602.2 L432.1,601.2 L432.6,600.3 L433.1,599.6 L433.6,598.9 L434.2,598.4 L434.9,598.0 L435.5,597.8 L436.2,597.7 L436.8,597.8 L437.5,598.0 L438.1,598.4 L438.7,598.9 L439.3,599.5 L439.8,600.3 L440.2,601.2 L440.6,602.2 L440.9,603.2 L441.1,604.3 L441.2,605.5 L441.3,606.7 L441.2,607.8 L441.1,609.0 L440.8,610.1 L440.6,611.2 L440.2,612.1 Z" fill="#3a3c44" stroke="#1a1a1a" stroke-width="1.2" stroke-linejoin="round"/>
<path d="M394.0,693.2 L393.5,693.9 L392.9,694.6 L392.3,695.1 L391.7,695.5 L391.0,695.7 L390.4,695.8 L389.7,695.7 L389.0,695.5 L388.4,695.1 L387.8,694.6 L387.3,694.0 L386.8,693.2 L386.3,692.3 L386.0,691.3 L385.7,690.3 L385.5,689.2 L385.3,688.0 L385.3,686.8 L385.3,685.7 L385.5,684.5 L385.7,683.4 L386.0,682.4 L386.4,681.4 L386.8,680.5 L387.3,679.7 L387.9,679.1 L388.5,678.5 L389.1,678.2 L389.8,677.9 L390.4,677.9 L391.1,677.9 L391.7,678.2 L392.4,678.5 L393.0,679.0 L393.5,679.7 L394.0,680.5 L394.5,681.4 L394.8,682.3 L395.1,683.4 L395.3,684.5 L395.5,685.6 L395.5,686.8 L395.4,688.0 L395.3,689.1 L395.1,690.3 L394.8,691.3 L394.4,692.3 Z" fill="#3a3c44" stroke="#1a1a1a" stroke-width="1.2" stroke-linejoin="round"/>
<path d="M333.8,662.5 L333.9,658.9 L334.5,655.2 L335.9,651.3 L337.9,647.3 L340.4,643.3 L343.5,639.4 L347.1,635.7 L351.2,632.1 L355.6,628.8 L360.3,625.8 L365.2,623.2 L370.3,621.0 L375.4,619.2 L380.4,618.0 L385.3,617.2 L390.0,616.9 L394.4,617.2 L398.4,618.0 L402.0,619.2 L405.1,621.0 L407.6,623.2 L409.6,625.8 L424.3,651.9 L425.6,654.9 L426.3,658.2 L426.2,661.7 L425.6,665.5 L424.2,669.4 L422.2,673.4 L419.7,677.3 L416.6,681.2 L413.0,685.0 L408.9,688.6 L404.5,691.9 L399.8,694.9 L394.9,697.5 L389.8,699.7 L384.7,701.5 L379.7,702.7 L374.8,703.5 L370.1,703.8 L365.7,703.5 L361.6,702.7 L358.1,701.5 L355.0,699.7 L352.4,697.5 L350.5,694.9 L335.8,668.8 L334.5,665.8 Z" fill="#9c9c9c" stroke="#1a1a1a" stroke-width="1.5" stroke-linejoin="round"/>
<g transform="matrix(0.81,0,-0.4035,0.7068,811.83,-398.14)"><circle cx="231.3" cy="1516" r="43" fill="#c8c8c8" stroke="#1a1a1a" stroke-width="1.5"/></g>
<g transform="matrix(0.81,0,-0.4035,0.7068,757.63,-493.93)"><circle cx="161" cy="1494" r="18" fill="#b0b0b0" stroke="#1a1a1a" stroke-width="1.5"/></g>
<path d="M401.1,387.1 L401.5,384.8 L402.5,382.6 L448.5,302.0 L449.9,300.2 L451.7,298.6 L454.0,297.3 L456.6,296.4 L459.5,295.8 L462.6,295.6 L466.0,295.8 L469.6,296.4 L473.2,297.3 L476.8,298.6 L480.5,300.2 L484.0,302.0 L487.4,304.2 L490.6,306.6 L493.4,309.1 L496.0,311.8 L498.3,314.6 L500.1,317.5 L501.5,320.3 L502.4,323.1 L502.9,325.8 L502.9,328.4 L502.4,330.8 L501.5,332.9 L455.5,413.5 L454.1,415.4 L452.2,417.0 L450.0,418.2 L447.4,419.1 L444.5,419.7 L441.3,419.9 L437.9,419.7 L434.4,419.1 L430.8,418.2 L427.1,417.0 L423.5,415.4 L420.0,413.5 L416.6,411.4 L413.4,409.0 L410.5,406.4 L407.9,403.7 L405.7,400.9 L403.9,398.1 L402.5,395.2 L401.5,392.4 L401.1,389.7 Z" fill="#9a9a9a" stroke="#1a1a1a" stroke-width="1.2" stroke-linejoin="round"/>
<path d="M390.3,382.8 L391.0,379.5 L392.3,376.5 L395.6,370.7 L397.6,368.1 L400.1,365.9 L403.2,364.1 L406.8,362.9 L410.8,362.1 L415.2,361.8 L419.9,362.1 L424.8,362.9 L429.9,364.1 L434.9,365.9 L440.0,368.1 L444.9,370.7 L449.6,373.7 L454.0,377.0 L458.0,380.5 L461.6,384.3 L464.7,388.2 L467.2,392.1 L469.1,396.1 L470.4,400.0 L471.1,403.7 L471.1,407.3 L470.4,410.6 L469.1,413.5 L465.8,419.3 L463.9,421.9 L461.3,424.1 L458.2,425.9 L454.6,427.2 L450.6,427.9 L446.2,428.2 L441.5,427.9 L436.6,427.2 L431.6,425.9 L426.5,424.1 L421.5,421.9 L416.6,419.3 L411.9,416.4 L407.5,413.1 L403.4,409.5 L399.9,405.8 L396.8,401.9 L394.2,397.9 L392.3,394.0 L391.0,390.1 L390.3,386.3 Z" fill="#b4b4b4" stroke="#1a1a1a" stroke-width="1.5" stroke-linejoin="round"/>
<path d="M449.5,422.4 L444.8,422.1 L439.9,421.4 L434.9,420.1 L429.8,418.3 L424.8,416.1 L419.9,413.5 L415.2,410.6 L410.8,407.3 L406.8,403.7 L403.2,400.0 L400.1,396.1 L397.5,392.1 L395.6,388.2 L394.3,384.3 L393.6,380.5 L393.6,377.0 L394.3,373.7 L395.6,370.7 L397.6,368.1 L400.1,365.9 L403.2,364.1 L406.8,362.9 L410.8,362.1 L415.2,361.8 L419.9,362.1 L424.8,362.9 L429.9,364.1 L434.9,365.9 L440.0,368.1 L444.9,370.7 L449.6,373.7 L454.0,377.0 L458.0,380.5 L461.6,384.3 L464.7,388.2 L467.2,392.1 L469.1,396.1 L470.5,400.0 L471.1,403.7 L471.1,407.3 L470.4,410.6 L469.1,413.5 L467.2,416.1 L464.6,418.3 L461.5,420.1 L457.9,421.4 L453.9,422.1 Z" fill="#cdcdcd" stroke="#1a1a1a" stroke-width="1.4" stroke-linejoin="round"/>
<path d="M396.1,372.7 L396.7,369.4 L398.1,366.5 L401.4,360.7 L403.3,358.1 L405.9,355.9 L408.9,354.1 L412.5,352.8 L416.6,352.1 L421.0,351.8 L425.7,352.1 L430.6,352.8 L435.6,354.1 L440.7,355.9 L445.7,358.1 L450.6,360.7 L455.3,363.6 L459.7,366.9 L463.7,370.5 L467.3,374.2 L470.4,378.1 L472.9,382.1 L474.9,386.0 L476.2,389.9 L476.8,393.7 L476.8,397.2 L476.2,400.5 L474.9,403.5 L471.5,409.3 L469.6,411.9 L467.1,414.1 L463.9,415.9 L460.4,417.1 L456.3,417.9 L451.9,418.2 L447.2,417.9 L442.3,417.1 L437.3,415.9 L432.2,414.1 L427.2,411.9 L422.3,409.3 L417.6,406.3 L413.2,403.0 L409.2,399.5 L405.6,395.7 L402.5,391.8 L400.0,387.9 L398.0,383.9 L396.7,380.0 L396.1,376.3 Z" fill="#b4b4b4" stroke="#1a1a1a" stroke-width="1.5" stroke-linejoin="round"/>
<path d="M455.2,412.4 L450.5,412.1 L445.6,411.3 L440.6,410.1 L435.5,408.3 L430.5,406.1 L425.6,403.5 L420.9,400.5 L416.5,397.2 L412.5,393.7 L408.9,389.9 L405.8,386.0 L403.3,382.1 L401.3,378.1 L400.0,374.2 L399.4,370.5 L399.4,366.9 L400.0,363.6 L401.4,360.7 L403.3,358.1 L405.8,355.9 L408.9,354.1 L412.5,352.8 L416.6,352.1 L421.0,351.8 L425.7,352.1 L430.6,352.8 L435.6,354.1 L440.7,355.9 L445.7,358.1 L450.6,360.7 L455.3,363.6 L459.7,366.9 L463.7,370.5 L467.3,374.2 L470.4,378.1 L472.9,382.1 L474.9,386.0 L476.2,389.9 L476.8,393.7 L476.8,397.2 L476.2,400.5 L474.8,403.5 L472.9,406.1 L470.4,408.3 L467.3,410.1 L463.7,411.3 L459.6,412.1 Z" fill="#cdcdcd" stroke="#1a1a1a" stroke-width="1.4" stroke-linejoin="round"/>
<path d="M401.8,362.7 L402.5,359.4 L403.8,356.4 L407.1,350.6 L409.0,348.0 L411.6,345.8 L414.7,344.1 L418.3,342.8 L422.3,342.0 L426.7,341.8 L431.4,342.0 L436.3,342.8 L441.3,344.1 L446.4,345.8 L451.4,348.0 L456.3,350.6 L461.0,353.6 L465.4,356.9 L469.4,360.4 L473.0,364.2 L476.1,368.1 L478.7,372.0 L480.6,376.0 L481.9,379.9 L482.6,383.6 L482.6,387.2 L481.9,390.5 L480.6,393.5 L477.3,399.2 L475.3,401.9 L472.8,404.1 L469.7,405.8 L466.1,407.1 L462.1,407.9 L457.7,408.1 L453.0,407.9 L448.1,407.1 L443.0,405.8 L437.9,404.1 L432.9,401.9 L428.0,399.2 L423.3,396.3 L418.9,393.0 L414.9,389.4 L411.3,385.7 L408.2,381.8 L405.7,377.8 L403.8,373.9 L402.4,370.0 L401.8,366.2 Z" fill="#b4b4b4" stroke="#1a1a1a" stroke-width="1.5" stroke-linejoin="round"/>
<path d="M461.0,402.3 L456.3,402.1 L451.4,401.3 L446.3,400.0 L441.3,398.3 L436.2,396.1 L431.3,393.5 L426.6,390.5 L422.2,387.2 L418.2,383.6 L414.6,379.9 L411.5,376.0 L409.0,372.0 L407.1,368.1 L405.8,364.2 L405.1,360.5 L405.1,356.9 L405.8,353.6 L407.1,350.6 L409.0,348.0 L411.6,345.8 L414.7,344.1 L418.3,342.8 L422.3,342.0 L426.7,341.8 L431.4,342.0 L436.3,342.8 L441.3,344.1 L446.4,345.8 L451.4,348.0 L456.3,350.6 L461.0,353.6 L465.4,356.9 L469.5,360.5 L473.0,364.2 L476.1,368.1 L478.7,372.0 L480.6,376.0 L481.9,379.9 L482.6,383.6 L482.6,387.2 L481.9,390.5 L480.6,393.5 L478.6,396.1 L476.1,398.3 L473.0,400.0 L469.4,401.3 L465.4,402.1 Z" fill="#cdcdcd" stroke="#1a1a1a" stroke-width="1.4" stroke-linejoin="round"/>
<path d="M407.5,352.7 L408.2,349.4 L409.5,346.4 L412.8,340.6 L414.8,338.0 L417.3,335.8 L420.4,334.0 L424.0,332.8 L428.0,332.0 L432.4,331.7 L437.1,332.0 L442.0,332.8 L447.1,334.0 L452.1,335.8 L457.2,338.0 L462.1,340.6 L466.8,343.6 L471.2,346.9 L475.2,350.4 L478.8,354.2 L481.9,358.1 L484.4,362.0 L486.3,366.0 L487.6,369.9 L488.3,373.6 L488.3,377.1 L487.6,380.4 L486.3,383.4 L483.0,389.2 L481.1,391.8 L478.5,394.0 L475.4,395.8 L471.8,397.1 L467.8,397.8 L463.4,398.1 L458.7,397.8 L453.8,397.1 L448.8,395.8 L443.7,394.0 L438.6,391.8 L433.7,389.2 L429.1,386.2 L424.7,382.9 L420.6,379.4 L417.1,375.6 L414.0,371.8 L411.4,367.8 L409.5,363.9 L408.2,360.0 L407.5,356.2 Z" fill="#b4b4b4" stroke="#1a1a1a" stroke-width="1.5" stroke-linejoin="round"/>
<path d="M466.7,392.3 L462.0,392.0 L457.1,391.3 L452.1,390.0 L447.0,388.2 L442.0,386.0 L437.1,383.4 L432.4,380.4 L428.0,377.2 L423.9,373.6 L420.4,369.8 L417.3,366.0 L414.7,362.0 L412.8,358.1 L411.5,354.2 L410.8,350.4 L410.8,346.9 L411.5,343.6 L412.8,340.6 L414.8,338.0 L417.3,335.8 L420.4,334.0 L424.0,332.8 L428.0,332.0 L432.4,331.7 L437.1,332.0 L442.0,332.8 L447.1,334.0 L452.1,335.8 L457.2,338.0 L462.1,340.6 L466.8,343.6 L471.2,346.9 L475.2,350.4 L478.8,354.2 L481.9,358.1 L484.4,362.0 L486.3,366.0 L487.6,369.8 L488.3,373.6 L488.3,377.2 L487.6,380.4 L486.3,383.4 L484.4,386.0 L481.8,388.2 L478.7,390.0 L475.1,391.3 L471.1,392.0 Z" fill="#cdcdcd" stroke="#1a1a1a" stroke-width="1.4" stroke-linejoin="round"/>
<path d="M413.2,342.6 L413.9,339.3 L415.2,336.4 L418.6,330.6 L420.5,327.9 L423.0,325.7 L426.1,324.0 L429.7,322.7 L433.8,321.9 L438.2,321.7 L442.9,321.9 L447.8,322.7 L452.8,324.0 L457.9,325.7 L462.9,327.9 L467.8,330.6 L472.5,333.5 L476.9,336.8 L480.9,340.4 L484.5,344.1 L487.6,348.0 L490.1,352.0 L492.1,355.9 L493.4,359.8 L494.0,363.6 L494.0,367.1 L493.4,370.4 L492.0,373.4 L488.7,379.2 L486.8,381.8 L484.2,384.0 L481.1,385.8 L477.6,387.0 L473.5,387.8 L469.1,388.1 L464.4,387.8 L459.5,387.0 L454.5,385.8 L449.4,384.0 L444.4,381.8 L439.5,379.2 L434.8,376.2 L430.4,372.9 L426.4,369.4 L422.8,365.6 L419.7,361.7 L417.1,357.8 L415.2,353.8 L413.9,349.9 L413.2,346.2 Z" fill="#b4b4b4" stroke="#1a1a1a" stroke-width="1.5" stroke-linejoin="round"/>
<path d="M472.4,382.3 L467.7,382.0 L462.8,381.2 L457.8,380.0 L452.7,378.2 L447.7,376.0 L442.8,373.4 L438.1,370.4 L433.7,367.1 L429.7,363.6 L426.1,359.8 L423.0,355.9 L420.5,352.0 L418.5,348.0 L417.2,344.1 L416.6,340.4 L416.6,336.8 L417.2,333.5 L418.5,330.6 L420.5,327.9 L423.0,325.7 L426.1,324.0 L429.7,322.7 L433.8,321.9 L438.2,321.7 L442.8,321.9 L447.8,322.7 L452.8,324.0 L457.9,325.7 L462.9,327.9 L467.8,330.6 L472.5,333.5 L476.9,336.8 L480.9,340.4 L484.5,344.1 L487.6,348.0 L490.1,352.0 L492.1,355.9 L493.4,359.8 L494.0,363.6 L494.0,367.1 L493.4,370.4 L492.0,373.4 L490.1,376.0 L487.5,378.2 L484.5,380.0 L480.9,381.2 L476.8,382.0 Z" fill="#cdcdcd" stroke="#1a1a1a" stroke-width="1.4" stroke-linejoin="round"/>
<path d="M419.0,332.6 L419.6,329.3 L421.0,326.3 L424.3,320.5 L426.2,317.9 L428.8,315.7 L431.9,313.9 L435.5,312.7 L439.5,311.9 L443.9,311.6 L448.6,311.9 L453.5,312.7 L458.5,313.9 L463.6,315.7 L468.6,317.9 L473.5,320.5 L478.2,323.5 L482.6,326.8 L486.6,330.4 L490.2,334.1 L493.3,338.0 L495.9,341.9 L497.8,345.9 L499.1,349.8 L499.8,353.5 L499.8,357.1 L499.1,360.4 L497.8,363.4 L494.5,369.1 L492.5,371.8 L490.0,374.0 L486.9,375.7 L483.3,377.0 L479.2,377.8 L474.9,378.0 L470.2,377.8 L465.2,377.0 L460.2,375.7 L455.1,374.0 L450.1,371.8 L445.2,369.1 L440.5,366.2 L436.1,362.9 L432.1,359.3 L428.5,355.6 L425.4,351.7 L422.9,347.7 L420.9,343.8 L419.6,339.9 L419.0,336.1 Z" fill="#b4b4b4" stroke="#1a1a1a" stroke-width="1.5" stroke-linejoin="round"/>
<path d="M478.2,372.2 L473.5,372.0 L468.6,371.2 L463.5,369.9 L458.4,368.2 L453.4,366.0 L448.5,363.3 L443.8,360.4 L439.4,357.1 L435.4,353.5 L431.8,349.8 L428.7,345.9 L426.2,341.9 L424.3,338.0 L422.9,334.1 L422.3,330.3 L422.3,326.8 L423.0,323.5 L424.3,320.5 L426.2,317.9 L428.8,315.7 L431.9,314.0 L435.5,312.7 L439.5,311.9 L443.9,311.6 L448.6,311.9 L453.5,312.7 L458.5,314.0 L463.6,315.7 L468.6,317.9 L473.5,320.5 L478.2,323.5 L482.6,326.8 L486.6,330.3 L490.2,334.1 L493.3,338.0 L495.9,341.9 L497.8,345.9 L499.1,349.8 L499.8,353.5 L499.8,357.1 L499.1,360.4 L497.8,363.3 L495.8,366.0 L493.3,368.2 L490.2,369.9 L486.6,371.2 L482.6,372.0 Z" fill="#cdcdcd" stroke="#1a1a1a" stroke-width="1.4" stroke-linejoin="round"/>
<path d="M424.7,322.6 L425.4,319.3 L426.7,316.3 L430.0,310.5 L431.9,307.9 L434.5,305.7 L437.6,303.9 L441.2,302.6 L445.2,301.9 L449.6,301.6 L454.3,301.9 L459.2,302.6 L464.2,303.9 L469.3,305.7 L474.4,307.9 L479.3,310.5 L483.9,313.5 L488.4,316.8 L492.4,320.3 L496.0,324.1 L499.1,327.9 L501.6,331.9 L503.5,335.9 L504.8,339.7 L505.5,343.5 L505.5,347.0 L504.8,350.3 L503.5,353.3 L500.2,359.1 L498.2,361.7 L495.7,363.9 L492.6,365.7 L489.0,366.9 L485.0,367.7 L480.6,368.0 L475.9,367.7 L471.0,366.9 L465.9,365.7 L460.9,363.9 L455.8,361.7 L450.9,359.1 L446.2,356.1 L441.9,352.8 L437.8,349.3 L434.2,345.5 L431.1,341.6 L428.6,337.7 L426.7,333.7 L425.4,329.9 L424.7,326.1 Z" fill="#b4b4b4" stroke="#1a1a1a" stroke-width="1.5" stroke-linejoin="round"/>
<path d="M483.9,362.2 L479.2,361.9 L474.3,361.2 L469.3,359.9 L464.2,358.1 L459.1,355.9 L454.2,353.3 L449.6,350.3 L445.2,347.0 L441.1,343.5 L437.5,339.7 L434.5,335.9 L431.9,331.9 L430.0,327.9 L428.7,324.1 L428.0,320.3 L428.0,316.8 L428.7,313.5 L430.0,310.5 L432.0,307.9 L434.5,305.7 L437.6,303.9 L441.2,302.6 L445.2,301.9 L449.6,301.6 L454.3,301.9 L459.2,302.6 L464.2,303.9 L469.3,305.7 L474.4,307.9 L479.3,310.5 L484.0,313.5 L488.3,316.8 L492.4,320.3 L496.0,324.1 L499.0,327.9 L501.6,331.9 L503.5,335.9 L504.8,339.7 L505.5,343.5 L505.5,347.0 L504.8,350.3 L503.5,353.3 L501.5,355.9 L499.0,358.1 L495.9,359.9 L492.3,361.2 L488.3,361.9 Z" fill="#cdcdcd" stroke="#1a1a1a" stroke-width="1.4" stroke-linejoin="round"/>
<path d="M430.4,312.5 L431.1,309.2 L432.4,306.2 L435.7,300.4 L437.7,297.8 L440.2,295.6 L443.3,293.9 L446.9,292.6 L450.9,291.8 L455.4,291.6 L460.0,291.8 L464.9,292.6 L470.0,293.9 L475.1,295.6 L480.1,297.8 L485.0,300.4 L489.7,303.4 L494.1,306.7 L498.1,310.3 L501.7,314.0 L504.8,317.9 L507.3,321.9 L509.2,325.8 L510.6,329.7 L511.2,333.4 L511.2,337.0 L510.6,340.3 L509.2,343.3 L505.9,349.1 L504.0,351.7 L501.4,353.9 L498.3,355.6 L494.7,356.9 L490.7,357.7 L486.3,357.9 L481.6,357.7 L476.7,356.9 L471.7,355.6 L466.6,353.9 L461.6,351.7 L456.7,349.1 L452.0,346.1 L447.6,342.8 L443.6,339.2 L440.0,335.5 L436.9,331.6 L434.3,327.7 L432.4,323.7 L431.1,319.8 L430.4,316.1 Z" fill="#b4b4b4" stroke="#1a1a1a" stroke-width="1.5" stroke-linejoin="round"/>
<path d="M489.6,352.1 L484.9,351.9 L480.0,351.1 L475.0,349.8 L469.9,348.1 L464.9,345.9 L460.0,343.3 L455.3,340.3 L450.9,337.0 L446.9,333.5 L443.3,329.7 L440.2,325.8 L437.7,321.9 L435.7,317.9 L434.4,314.0 L433.7,310.3 L433.7,306.7 L434.4,303.4 L435.7,300.4 L437.7,297.8 L440.2,295.6 L443.3,293.9 L446.9,292.6 L450.9,291.8 L455.3,291.6 L460.0,291.8 L464.9,292.6 L470.0,293.9 L475.1,295.6 L480.1,297.8 L485.0,300.4 L489.7,303.4 L494.1,306.7 L498.1,310.3 L501.7,314.0 L504.8,317.9 L507.3,321.9 L509.2,325.8 L510.6,329.7 L511.2,333.5 L511.2,337.0 L510.5,340.3 L509.2,343.3 L507.3,345.9 L504.7,348.1 L501.6,349.8 L498.0,351.1 L494.0,351.9 Z" fill="#cdcdcd" stroke="#1a1a1a" stroke-width="1.4" stroke-linejoin="round"/>
<path d="M436.2,302.3 L436.9,299.0 L438.2,296.1 L456.8,263.6 L458.8,260.9 L461.3,258.7 L464.4,257.0 L468.0,255.7 L472.0,254.9 L476.4,254.7 L481.1,254.9 L486.0,255.7 L491.0,257.0 L496.1,258.7 L501.1,260.9 L506.1,263.6 L510.8,266.5 L515.1,269.8 L519.2,273.4 L522.8,277.1 L525.8,281.0 L528.4,285.0 L530.3,288.9 L531.6,292.8 L532.3,296.6 L532.3,300.1 L531.6,303.4 L530.3,306.4 L511.7,338.9 L509.8,341.5 L507.2,343.7 L504.1,345.5 L500.6,346.7 L496.5,347.5 L492.1,347.8 L487.4,347.5 L482.5,346.7 L477.5,345.5 L472.4,343.7 L467.4,341.5 L462.5,338.9 L457.8,335.9 L453.4,332.6 L449.4,329.1 L445.8,325.3 L442.7,321.4 L440.1,317.5 L438.2,313.5 L436.9,309.6 L436.2,305.9 Z" fill="#c4c4c4" stroke="#1a1a1a" stroke-width="1.5" stroke-linejoin="round"/>
<path d="M499.2,335.4 L494.5,335.1 L489.6,334.4 L484.5,333.1 L479.5,331.3 L474.4,329.1 L469.5,326.5 L464.8,323.5 L460.4,320.3 L456.4,316.7 L452.8,312.9 L449.7,309.1 L447.2,305.1 L445.3,301.2 L444.0,297.3 L443.3,293.5 L443.3,290.0 L444.0,286.7 L445.3,283.7 L447.2,281.1 L449.8,278.9 L452.9,277.1 L456.5,275.9 L460.5,275.1 L464.9,274.8 L469.6,275.1 L474.5,275.9 L479.5,277.1 L484.6,278.9 L489.7,281.1 L494.6,283.7 L499.2,286.7 L503.6,290.0 L507.7,293.5 L511.3,297.3 L514.3,301.2 L516.9,305.1 L518.8,309.1 L520.1,312.9 L520.8,316.7 L520.8,320.3 L520.1,323.5 L518.8,326.5 L516.8,329.1 L514.3,331.3 L511.2,333.1 L507.6,334.4 L503.6,335.1 Z" fill="none" stroke="#1a1a1a" stroke-width="1.6" stroke-linejoin="round"/>
<g transform="matrix(0.81,0,-0.4035,0.7068,754.05,-500.27)"><g transform="rotate(-4.5 136.8 1288)"><path d="M118,1200 L124,1190 L143.2,1190 L155.3,1275 L155.8,1487 A9.5,9.5 0 0 1 136.8,1487 Z" fill="#c29a44" stroke="#1a1a1a" stroke-width="1.5"/><rect x="121" y="1150" width="17" height="56" rx="6" fill="#c29a44" stroke="#1a1a1a" stroke-width="1.4"/><circle cx="112" cy="1168" r="7" fill="#222" stroke="#111" stroke-width="1"/></g></g><g transform="matrix(0.81,0,-0.4035,0.7068,757.63,-493.93)"><g transform="rotate(-4.5 136.8 1288)"><path d="M118,1200 L124,1190 L143.2,1190 L155.3,1275 L155.8,1487 A9.5,9.5 0 0 1 136.8,1487 Z" fill="#7a5a22" stroke="#1a1a1a" stroke-width="1.5"/><rect x="121" y="1150" width="17" height="56" rx="6" fill="#a57a2e" stroke="#1a1a1a" stroke-width="1.4"/><circle cx="112" cy="1168" r="7" fill="#222" stroke="#111" stroke-width="1"/><g fill="#c8a040" stroke="#1a1a1a" stroke-width="1.3"><circle cx="135.2" cy="1248.4" r="6.5"/><circle cx="138.5" cy="1326.6" r="7"/><circle cx="140.1" cy="1358.7" r="7"/><circle cx="141.7" cy="1390.1" r="6.5"/><circle cx="143.3" cy="1422.1" r="6"/><circle cx="144.4" cy="1453.5" r="5.5"/></g><circle cx="136.8" cy="1288" r="11" fill="#b8b8b8" stroke="#1a1a1a" stroke-width="1.4"/><circle cx="136.8" cy="1288" r="6" fill="#3a3e48"/></g></g>
<path d="M527.7,251.7 L570.6,227.6 L570.7,227.8 L571.0,228.2 L571.3,228.8 L572.4,230.6 L573.1,231.8 L573.9,233.2 L575.6,236.3 L578.5,241.5 L579.4,243.2 L580.4,245.0 L581.2,246.6 L582.1,248.2 L582.9,249.6 L583.5,250.9 L584.1,252.1 L584.6,253.0 L585.0,253.8 L585.2,254.3 L585.3,254.6 L585.3,254.7 L542.4,278.7 L542.3,278.5 L542.1,278.1 L541.7,277.5 L541.2,276.7 L540.6,275.7 L539.9,274.5 L539.1,273.1 L538.3,271.6 L537.4,270.1 L536.5,268.4 L535.5,266.6 L534.5,264.9 L532.6,261.4 L531.8,259.7 L530.1,256.7 L529.5,255.4 L528.9,254.3 L528.4,253.3 L528.0,252.6 L527.8,252.0 L527.7,251.7 Z" fill="#a57a2e" stroke="#1a1a1a" stroke-width="1.4" stroke-linejoin="round"/><path d="M564.0,235.7 L564.2,234.5 L564.7,233.4 L565.4,232.5 L566.3,231.7 L567.4,231.1 L568.7,230.6 L570.2,230.3 L571.8,230.2 L573.5,230.3 L575.2,230.6 L577.0,231.1 L578.9,231.7 L580.7,232.5 L582.5,233.4 L584.1,234.5 L585.7,235.7 L587.2,237.0 L588.5,238.3 L589.6,239.7 L590.5,241.2 L591.2,242.6 L591.7,244.0 L591.9,245.3 L591.9,246.6 L591.7,247.8 L591.2,248.9 L590.5,249.8 L589.6,250.6 L588.5,251.2 L587.2,251.7 L585.7,252.0 L584.1,252.1 L582.4,252.0 L580.7,251.7 L578.8,251.2 L577.0,250.6 L575.2,249.8 L573.4,248.9 L571.7,247.8 L570.2,246.6 L568.7,245.3 L567.4,244.0 L566.3,242.6 L565.4,241.2 L564.7,239.7 L564.2,238.3 L564.0,237.0 Z" fill="#b88e3a" stroke="#1a1a1a" stroke-width="1.4" stroke-linejoin="round"/><path d="M492.1,271.5 L492.1,271.4 L527.7,251.6 L527.9,251.8 L528.1,252.2 L528.5,252.8 L529.0,253.6 L529.6,254.6 L530.3,255.8 L531.1,257.2 L531.9,258.7 L533.7,262.0 L534.7,263.7 L536.6,267.2 L538.4,270.6 L540.0,273.6 L540.7,275.0 L541.2,276.1 L541.7,277.1 L542.1,277.8 L542.3,278.3 L542.4,278.6 L542.4,278.7 L506.8,298.5 L506.7,298.4 L506.4,298.0 L506.0,297.4 L505.5,296.6 L504.9,295.5 L504.2,294.3 L503.5,293.0 L501.7,289.9 L500.8,288.2 L498.9,284.7 L497.9,282.9 L496.1,279.5 L494.5,276.5 L493.9,275.2 L493.3,274.1 L492.8,273.1 L492.5,272.4 L492.2,271.8 Z" fill="#d4d4d4" stroke="#1a1a1a" stroke-width="1.4" stroke-linejoin="round"/><path d="M528.9,260.0 L498.2,277.0" stroke="#555" stroke-width="1.3"/><path d="M531.4,264.4 L500.7,281.4" stroke="#555" stroke-width="1.3"/><path d="M533.9,268.8 L503.1,285.7" stroke="#555" stroke-width="1.3"/><path d="M536.3,273.1 L505.6,290.1" stroke="#555" stroke-width="1.3"/>
<g transform="matrix(0.81,0,-0.4035,0.7068,825.38,-374.20)"><path d="M214.2,1261 H228.7 L235.6,1505 H206 Z" fill="#7a5a22" stroke="#1a1a1a" stroke-width="1.5"/></g>
<g transform="matrix(0.81,0,-0.4035,0.7068,822.99,-378.42)"><path d="M214.2,1261 H228.7 L235.6,1505 H206 Z" fill="#c29a44" stroke="#1a1a1a" stroke-width="1.2"/></g>
<g transform="matrix(0.81,0,-0.4035,0.7068,825.38,-374.20)"><path d="M214.2,1261 H228.7 L235.6,1505 H206 Z" fill="#7a5a22" stroke="#1a1a1a" stroke-width="1.5" transform="translate(-3,0)"/><circle cx="221" cy="1526.3" r="19" fill="#a57a2e" stroke="#1a1a1a" stroke-width="1.6"/><circle cx="221" cy="1526.3" r="12" fill="#5a4420" stroke="#1a1a1a" stroke-width="1.4"/></g>
<path d="M340.8,418.7 L340.8,418.2 L340.9,417.6 L341.1,417.0 L341.4,416.4 L341.8,415.8 L342.2,415.2 L342.8,414.7 L343.4,414.1 L344.1,413.6 L344.8,413.2 L345.5,412.8 L346.3,412.5 L347.1,412.2 L347.8,412.0 L348.6,411.9 L349.3,411.8 L349.9,411.9 L350.6,412.0 L351.1,412.2 L351.6,412.5 L351.9,412.8 L352.2,413.2 L420.0,532.9 L420.2,533.4 L420.3,533.9 L420.3,534.4 L420.2,535.0 L420.0,535.6 L419.7,536.2 L419.3,536.8 L418.8,537.4 L418.3,537.9 L417.6,538.5 L417.0,539.0 L416.3,539.4 L415.5,539.8 L414.8,540.1 L414.0,540.4 L413.2,540.6 L412.5,540.7 L411.8,540.8 L411.1,540.7 L410.5,540.6 L410.0,540.4 L409.5,540.1 L409.1,539.8 L408.8,539.4 L341.1,419.7 L340.9,419.2 Z" fill="#e6e6e6" stroke="#1a1a1a" stroke-width="1.3" stroke-linejoin="round"/>
<path d="M380.0,477.9 L380.1,477.4 L380.2,476.9 L380.5,476.3 L380.9,475.8 L381.3,475.2 L381.8,474.7 L382.4,474.2 L383.0,473.7 L383.7,473.3 L384.4,472.9 L385.1,472.6 L385.8,472.4 L386.5,472.2 L387.1,472.1 L387.8,472.1 L444.5,472.1 L445.1,472.1 L445.7,472.2 L446.2,472.4 L446.6,472.6 L447.0,472.9 L447.2,473.3 L447.4,473.7 L447.5,474.2 L447.5,474.7 L447.4,475.2 L447.2,475.8 L446.9,476.3 L446.6,476.9 L446.1,477.4 L445.6,477.9 L445.1,478.4 L444.5,478.9 L443.8,479.3 L443.1,479.7 L442.4,480.0 L441.7,480.2 L441.0,480.4 L440.3,480.5 L439.7,480.5 L383.0,480.5 L382.4,480.5 L381.8,480.4 L381.3,480.2 L380.9,480.0 L380.5,479.7 L380.2,479.3 L380.1,478.9 L380.0,478.4 Z" fill="#c8c8c8" stroke="#1a1a1a" stroke-width="1.2" stroke-linejoin="round"/>
<path d="M362.7,472.1 L362.7,470.9 L362.9,469.7 L363.4,468.4 L364.0,467.1 L364.8,465.9 L365.9,464.6 L367.0,463.4 L368.4,462.2 L369.8,461.1 L371.3,460.1 L372.9,459.3 L374.6,458.6 L376.2,458.0 L377.9,457.6 L379.5,457.3 L381.0,457.2 L382.4,457.3 L383.7,457.6 L384.9,458.0 L385.9,458.6 L386.7,459.3 L387.4,460.1 L397.7,478.5 L398.1,479.4 L398.4,480.5 L398.4,481.7 L398.1,482.9 L397.7,484.2 L397.1,485.5 L396.2,486.8 L395.2,488.0 L394.0,489.2 L392.7,490.4 L391.3,491.5 L389.7,492.4 L388.1,493.3 L386.5,494.0 L384.8,494.6 L383.2,495.0 L381.6,495.3 L380.1,495.4 L378.6,495.3 L377.3,495.0 L376.1,494.6 L375.1,494.0 L374.3,493.3 L373.7,492.4 L363.3,474.1 L362.9,473.2 Z" fill="#a57a2e" stroke="#1a1a1a" stroke-width="1.5" stroke-linejoin="round"/>
<g transform="matrix(0.81,0,-0.4035,0.7068,796.69,-424.91)"><circle cx="134.3" cy="1288" r="14" fill="#c29a44" stroke="#1a1a1a" stroke-width="1.5"/><circle cx="134.3" cy="1288" r="4.5" fill="#fff" stroke="#1a1a1a" stroke-width="1.2"/></g>
<path d="M468.4,508.7 L468.4,506.2 L468.9,503.8 L469.8,501.6 L515.8,421.1 L517.2,419.2 L519.1,417.6 L521.3,416.3 L523.9,415.4 L526.8,414.9 L530.0,414.7 L533.4,414.9 L536.9,415.4 L540.5,416.3 L544.2,417.6 L547.8,419.2 L551.4,421.1 L554.7,423.2 L557.9,425.6 L560.8,428.1 L563.4,430.9 L565.6,433.7 L567.4,436.5 L568.8,439.4 L569.8,442.2 L570.3,444.9 L570.2,447.4 L569.8,449.8 L568.8,451.9 L522.8,532.5 L521.4,534.4 L519.6,536.0 L517.4,537.2 L514.8,538.2 L511.9,538.7 L508.7,538.9 L505.3,538.7 L501.8,538.2 L498.1,537.2 L494.5,536.0 L490.9,534.4 L487.3,532.5 L483.9,530.4 L480.8,528.0 L477.9,525.4 L475.3,522.7 L473.1,519.9 L471.2,517.1 L469.8,514.2 L468.9,511.4 Z" fill="#9a9a9a" stroke="#1a1a1a" stroke-width="1.2" stroke-linejoin="round"/>
<path d="M457.7,501.8 L458.4,498.5 L459.7,495.5 L463.0,489.7 L464.9,487.1 L467.5,484.9 L470.6,483.2 L474.1,481.9 L478.2,481.1 L482.6,480.9 L487.3,481.1 L492.2,481.9 L497.2,483.2 L502.3,484.9 L507.3,487.1 L512.2,489.7 L516.9,492.7 L521.3,496.0 L525.3,499.6 L528.9,503.3 L532.0,507.2 L534.5,511.1 L536.5,515.1 L537.8,519.0 L538.5,522.7 L538.5,526.3 L537.8,529.6 L536.5,532.6 L533.2,538.4 L531.2,541.0 L528.7,543.2 L525.6,544.9 L522.0,546.2 L518.0,547.0 L513.5,547.2 L508.9,547.0 L503.9,546.2 L498.9,544.9 L493.8,543.2 L488.8,541.0 L483.9,538.4 L479.2,535.4 L474.8,532.1 L470.8,528.5 L467.2,524.8 L464.1,520.9 L461.6,516.9 L459.6,513.0 L458.3,509.1 L457.7,505.4 Z" fill="#b4b4b4" stroke="#1a1a1a" stroke-width="1.5" stroke-linejoin="round"/>
<path d="M516.9,541.4 L512.2,541.2 L507.3,540.4 L502.2,539.1 L497.1,537.4 L492.1,535.2 L487.2,532.6 L482.5,529.6 L478.1,526.3 L474.1,522.7 L470.5,519.0 L467.4,515.1 L464.9,511.1 L463.0,507.2 L461.6,503.3 L461.0,499.6 L461.0,496.0 L461.7,492.7 L463.0,489.7 L464.9,487.1 L467.5,484.9 L470.6,483.2 L474.2,481.9 L478.2,481.1 L482.6,480.9 L487.3,481.1 L492.2,481.9 L497.2,483.2 L502.3,484.9 L507.3,487.1 L512.2,489.7 L516.9,492.7 L521.3,496.0 L525.3,499.6 L528.9,503.3 L532.0,507.2 L534.5,511.1 L536.5,515.1 L537.8,519.0 L538.5,522.7 L538.5,526.3 L537.8,529.6 L536.5,532.6 L534.5,535.2 L532.0,537.4 L528.9,539.1 L525.3,540.4 L521.3,541.2 Z" fill="#cdcdcd" stroke="#1a1a1a" stroke-width="1.4" stroke-linejoin="round"/>
<path d="M463.4,495.3 L463.4,491.8 L464.1,488.5 L465.4,485.5 L468.7,479.7 L470.6,477.1 L473.2,474.9 L476.3,473.1 L479.9,471.9 L483.9,471.1 L488.3,470.8 L493.0,471.1 L497.9,471.9 L502.9,473.1 L508.0,474.9 L513.1,477.1 L518.0,479.7 L522.6,482.7 L527.0,486.0 L531.1,489.5 L534.7,493.3 L537.7,497.1 L540.3,501.1 L542.2,505.1 L543.5,508.9 L544.2,512.7 L544.2,516.2 L543.5,519.5 L542.2,522.5 L538.9,528.3 L536.9,530.9 L534.4,533.1 L531.3,534.9 L527.7,536.2 L523.7,536.9 L519.3,537.2 L514.6,536.9 L509.7,536.2 L504.6,534.9 L499.6,533.1 L494.5,530.9 L489.6,528.3 L484.9,525.3 L480.5,522.0 L476.5,518.5 L472.9,514.7 L469.9,510.9 L467.3,506.9 L465.4,502.9 L464.1,499.1 Z" fill="#b4b4b4" stroke="#1a1a1a" stroke-width="1.5" stroke-linejoin="round"/>
<path d="M522.6,531.4 L517.9,531.1 L513.0,530.4 L508.0,529.1 L502.9,527.3 L497.8,525.1 L492.9,522.5 L488.2,519.5 L483.9,516.2 L479.8,512.7 L476.2,508.9 L473.2,505.1 L470.6,501.1 L468.7,497.2 L467.4,493.3 L466.7,489.5 L466.7,486.0 L467.4,482.7 L468.7,479.7 L470.7,477.1 L473.2,474.9 L476.3,473.1 L479.9,471.9 L483.9,471.1 L488.3,470.8 L493.0,471.1 L497.9,471.9 L502.9,473.1 L508.0,474.9 L513.1,477.1 L518.0,479.7 L522.7,482.7 L527.0,486.0 L531.1,489.5 L534.7,493.3 L537.7,497.2 L540.3,501.1 L542.2,505.1 L543.5,508.9 L544.2,512.7 L544.2,516.2 L543.5,519.5 L542.2,522.5 L540.2,525.1 L537.7,527.3 L534.6,529.1 L531.0,530.4 L527.0,531.1 Z" fill="#cdcdcd" stroke="#1a1a1a" stroke-width="1.4" stroke-linejoin="round"/>
<path d="M469.1,485.3 L469.1,481.7 L469.8,478.4 L471.1,475.4 L474.4,469.7 L476.4,467.0 L478.9,464.8 L482.0,463.1 L485.6,461.8 L489.6,461.1 L494.0,460.8 L498.7,461.1 L503.6,461.8 L508.7,463.1 L513.8,464.8 L518.8,467.0 L523.7,469.7 L528.4,472.6 L532.8,475.9 L536.8,479.5 L540.4,483.2 L543.5,487.1 L546.0,491.1 L548.0,495.0 L549.3,498.9 L549.9,502.7 L549.9,506.2 L549.2,509.5 L547.9,512.5 L544.6,518.3 L542.7,520.9 L540.1,523.1 L537.0,524.9 L533.4,526.1 L529.4,526.9 L525.0,527.1 L520.3,526.9 L515.4,526.1 L510.4,524.9 L505.3,523.1 L500.3,520.9 L495.4,518.3 L490.7,515.3 L486.3,512.0 L482.2,508.5 L478.7,504.7 L475.6,500.8 L473.0,496.9 L471.1,492.9 L469.8,489.0 Z" fill="#b4b4b4" stroke="#1a1a1a" stroke-width="1.5" stroke-linejoin="round"/>
<path d="M528.3,521.4 L523.6,521.1 L518.7,520.3 L513.7,519.1 L508.6,517.3 L503.6,515.1 L498.7,512.5 L494.0,509.5 L489.6,506.2 L485.6,502.7 L482.0,498.9 L478.9,495.0 L476.3,491.1 L474.4,487.1 L473.1,483.2 L472.4,479.5 L472.4,475.9 L473.1,472.6 L474.4,469.7 L476.4,467.0 L478.9,464.8 L482.0,463.1 L485.6,461.8 L489.6,461.0 L494.0,460.8 L498.7,461.0 L503.6,461.8 L508.7,463.1 L513.8,464.8 L518.8,467.0 L523.7,469.7 L528.4,472.6 L532.8,475.9 L536.8,479.5 L540.4,483.2 L543.5,487.1 L546.0,491.1 L547.9,495.0 L549.3,498.9 L549.9,502.7 L549.9,506.2 L549.2,509.5 L547.9,512.5 L546.0,515.1 L543.4,517.3 L540.3,519.1 L536.7,520.3 L532.7,521.1 Z" fill="#cdcdcd" stroke="#1a1a1a" stroke-width="1.4" stroke-linejoin="round"/>
<path d="M474.9,475.2 L474.9,471.7 L475.5,468.4 L476.9,465.4 L480.2,459.6 L482.1,457.0 L484.6,454.8 L487.8,453.1 L491.3,451.8 L495.4,451.0 L499.8,450.8 L504.5,451.0 L509.4,451.8 L514.4,453.1 L519.5,454.8 L524.5,457.0 L529.4,459.6 L534.1,462.6 L538.5,465.9 L542.5,469.4 L546.1,473.2 L549.2,477.1 L551.7,481.0 L553.7,485.0 L555.0,488.9 L555.6,492.6 L555.6,496.2 L555.0,499.5 L553.6,502.4 L550.4,508.2 L548.4,510.9 L545.9,513.1 L542.8,514.8 L539.2,516.1 L535.1,516.9 L530.7,517.1 L526.0,516.9 L521.1,516.1 L516.1,514.8 L511.0,513.1 L506.0,510.9 L501.1,508.2 L496.4,505.3 L492.0,502.0 L488.0,498.4 L484.4,494.7 L481.3,490.8 L478.8,486.8 L476.8,482.9 L475.5,479.0 Z" fill="#b4b4b4" stroke="#1a1a1a" stroke-width="1.5" stroke-linejoin="round"/>
<path d="M534.0,511.3 L529.4,511.1 L524.4,510.3 L519.4,509.0 L514.3,507.3 L509.3,505.1 L504.4,502.4 L499.7,499.5 L495.3,496.2 L491.3,492.6 L487.7,488.9 L484.6,485.0 L482.1,481.0 L480.1,477.1 L478.8,473.2 L478.2,469.4 L478.2,465.9 L478.8,462.6 L480.2,459.6 L482.1,457.0 L484.7,454.8 L487.7,453.1 L491.3,451.8 L495.4,451.0 L499.8,450.7 L504.5,451.0 L509.4,451.8 L514.4,453.1 L519.5,454.8 L524.5,457.0 L529.4,459.6 L534.1,462.6 L538.5,465.9 L542.5,469.4 L546.1,473.2 L549.2,477.1 L551.7,481.0 L553.7,485.0 L555.0,488.9 L555.6,492.6 L555.6,496.2 L555.0,499.5 L553.7,502.4 L551.7,505.1 L549.2,507.3 L546.1,509.0 L542.5,510.3 L538.4,511.1 Z" fill="#cdcdcd" stroke="#1a1a1a" stroke-width="1.4" stroke-linejoin="round"/>
<path d="M480.6,465.2 L480.6,461.6 L481.3,458.4 L482.6,455.4 L485.9,449.6 L487.8,447.0 L490.4,444.8 L493.5,443.0 L497.1,441.7 L501.1,441.0 L505.5,440.7 L510.2,441.0 L515.1,441.7 L520.1,443.0 L525.2,444.8 L530.2,447.0 L535.1,449.6 L539.8,452.6 L544.2,455.9 L548.3,459.4 L551.9,463.2 L554.9,467.0 L557.5,471.0 L559.4,474.9 L560.7,478.8 L561.4,482.6 L561.4,486.1 L560.7,489.4 L559.4,492.4 L556.1,498.2 L554.1,500.8 L551.6,503.0 L548.5,504.8 L544.9,506.1 L540.9,506.8 L536.5,507.1 L531.8,506.8 L526.9,506.1 L521.8,504.8 L516.8,503.0 L511.7,500.8 L506.8,498.2 L502.1,495.2 L497.7,491.9 L493.7,488.4 L490.1,484.6 L487.0,480.8 L484.5,476.8 L482.6,472.8 L481.2,469.0 Z" fill="#b4b4b4" stroke="#1a1a1a" stroke-width="1.5" stroke-linejoin="round"/>
<path d="M539.8,501.3 L535.1,501.0 L530.2,500.3 L525.1,499.0 L520.1,497.2 L515.0,495.0 L510.1,492.4 L505.4,489.4 L501.0,486.1 L497.0,482.6 L493.4,478.8 L490.3,475.0 L487.8,471.0 L485.9,467.0 L484.6,463.2 L483.9,459.4 L483.9,455.9 L484.6,452.6 L485.9,449.6 L487.8,447.0 L490.4,444.8 L493.5,443.0 L497.1,441.7 L501.1,441.0 L505.5,440.7 L510.2,441.0 L515.1,441.7 L520.1,443.0 L525.2,444.8 L530.2,447.0 L535.2,449.6 L539.8,452.6 L544.2,455.9 L548.3,459.4 L551.8,463.2 L554.9,467.0 L557.5,471.0 L559.4,475.0 L560.7,478.8 L561.4,482.6 L561.4,486.1 L560.7,489.4 L559.4,492.4 L557.4,495.0 L554.9,497.2 L551.8,499.0 L548.2,500.3 L544.2,501.0 Z" fill="#cdcdcd" stroke="#1a1a1a" stroke-width="1.4" stroke-linejoin="round"/>
<path d="M486.3,455.2 L486.3,451.6 L487.0,448.3 L488.3,445.3 L491.6,439.6 L493.6,436.9 L496.1,434.7 L499.2,433.0 L502.8,431.7 L506.8,430.9 L511.2,430.7 L515.9,430.9 L520.8,431.7 L525.9,433.0 L530.9,434.7 L536.0,436.9 L540.9,439.6 L545.6,442.5 L550.0,445.8 L554.0,449.4 L557.6,453.1 L560.7,457.0 L563.2,461.0 L565.1,464.9 L566.5,468.8 L567.1,472.6 L567.1,476.1 L566.4,479.4 L565.1,482.4 L561.8,488.2 L559.9,490.8 L557.3,493.0 L554.2,494.7 L550.6,496.0 L546.6,496.8 L542.2,497.0 L537.5,496.8 L532.6,496.0 L527.6,494.7 L522.5,493.0 L517.5,490.8 L512.5,488.2 L507.9,485.2 L503.5,481.9 L499.4,478.4 L495.9,474.6 L492.8,470.7 L490.2,466.8 L488.3,462.8 L487.0,458.9 Z" fill="#b4b4b4" stroke="#1a1a1a" stroke-width="1.5" stroke-linejoin="round"/>
<path d="M545.5,491.2 L540.8,491.0 L535.9,490.2 L530.9,488.9 L525.8,487.2 L520.8,485.0 L515.9,482.4 L511.2,479.4 L506.8,476.1 L502.7,472.6 L499.2,468.8 L496.1,464.9 L493.5,461.0 L491.6,457.0 L490.3,453.1 L489.6,449.4 L489.6,445.8 L490.3,442.5 L491.6,439.5 L493.6,436.9 L496.1,434.7 L499.2,433.0 L502.8,431.7 L506.8,430.9 L511.2,430.7 L515.9,430.9 L520.8,431.7 L525.9,433.0 L530.9,434.7 L536.0,436.9 L540.9,439.5 L545.6,442.5 L550.0,445.8 L554.0,449.4 L557.6,453.1 L560.7,457.0 L563.2,461.0 L565.1,464.9 L566.4,468.8 L567.1,472.6 L567.1,476.1 L566.4,479.4 L565.1,482.4 L563.2,485.0 L560.6,487.2 L557.5,488.9 L553.9,490.2 L549.9,491.0 Z" fill="#cdcdcd" stroke="#1a1a1a" stroke-width="1.4" stroke-linejoin="round"/>
<path d="M492.1,445.1 L492.1,441.6 L492.7,438.3 L494.0,435.3 L497.4,429.5 L499.3,426.9 L501.8,424.7 L504.9,422.9 L508.5,421.7 L512.6,420.9 L517.0,420.6 L521.7,420.9 L526.6,421.7 L531.6,422.9 L536.7,424.7 L541.7,426.9 L546.6,429.5 L551.3,432.5 L555.7,435.8 L559.7,439.3 L563.3,443.1 L566.4,447.0 L568.9,450.9 L570.9,454.9 L572.2,458.8 L572.8,462.5 L572.8,466.1 L572.2,469.4 L570.8,472.3 L567.5,478.1 L565.6,480.8 L563.0,482.9 L560.0,484.7 L556.4,486.0 L552.3,486.8 L547.9,487.0 L543.2,486.8 L538.3,486.0 L533.3,484.7 L528.2,482.9 L523.2,480.8 L518.3,478.1 L513.6,475.2 L509.2,471.9 L505.2,468.3 L501.6,464.6 L498.5,460.7 L496.0,456.7 L494.0,452.8 L492.7,448.9 Z" fill="#b4b4b4" stroke="#1a1a1a" stroke-width="1.5" stroke-linejoin="round"/>
<path d="M551.2,481.2 L546.5,481.0 L541.6,480.2 L536.6,478.9 L531.5,477.2 L526.5,475.0 L521.6,472.3 L516.9,469.4 L512.5,466.1 L508.5,462.5 L504.9,458.8 L501.8,454.9 L499.3,450.9 L497.3,447.0 L496.0,443.1 L495.4,439.3 L495.4,435.8 L496.0,432.5 L497.4,429.5 L499.3,426.9 L501.8,424.7 L504.9,422.9 L508.5,421.7 L512.6,420.9 L517.0,420.6 L521.7,420.9 L526.6,421.7 L531.6,422.9 L536.7,424.7 L541.7,426.9 L546.6,429.5 L551.3,432.5 L555.7,435.8 L559.7,439.3 L563.3,443.1 L566.4,447.0 L568.9,450.9 L570.9,454.9 L572.2,458.8 L572.8,462.5 L572.8,466.1 L572.2,469.4 L570.8,472.3 L568.9,475.0 L566.4,477.2 L563.3,478.9 L559.7,480.2 L555.6,481.0 Z" fill="#cdcdcd" stroke="#1a1a1a" stroke-width="1.4" stroke-linejoin="round"/>
<path d="M497.8,435.1 L497.8,431.5 L498.5,428.2 L499.8,425.3 L503.1,419.5 L505.0,416.9 L507.6,414.7 L510.7,412.9 L514.3,411.6 L518.3,410.9 L522.7,410.6 L527.4,410.9 L532.3,411.6 L537.3,412.9 L542.4,414.7 L547.4,416.9 L552.3,419.5 L557.0,422.4 L561.4,425.8 L565.5,429.3 L569.0,433.1 L572.1,436.9 L574.7,440.9 L576.6,444.8 L577.9,448.7 L578.6,452.5 L578.6,456.0 L577.9,459.3 L576.6,462.3 L573.3,468.1 L571.3,470.7 L568.8,472.9 L565.7,474.7 L562.1,475.9 L558.0,476.7 L553.6,477.0 L549.0,476.7 L544.1,475.9 L539.0,474.7 L533.9,472.9 L528.9,470.7 L524.0,468.1 L519.3,465.1 L514.9,461.8 L510.9,458.3 L507.3,454.5 L504.2,450.6 L501.7,446.7 L499.8,442.7 L498.4,438.9 Z" fill="#b4b4b4" stroke="#1a1a1a" stroke-width="1.5" stroke-linejoin="round"/>
<path d="M557.0,471.2 L552.3,470.9 L547.4,470.1 L542.3,468.9 L537.3,467.1 L532.2,464.9 L527.3,462.3 L522.6,459.3 L518.2,456.0 L514.2,452.5 L510.6,448.7 L507.5,444.8 L505.0,440.9 L503.1,436.9 L501.7,433.0 L501.1,429.3 L501.1,425.7 L501.8,422.5 L503.1,419.5 L505.0,416.9 L507.6,414.7 L510.7,412.9 L514.3,411.6 L518.3,410.9 L522.7,410.6 L527.4,410.9 L532.3,411.6 L537.3,412.9 L542.4,414.7 L547.4,416.9 L552.3,419.5 L557.0,422.5 L561.4,425.7 L565.4,429.3 L569.0,433.0 L572.1,436.9 L574.7,440.9 L576.6,444.8 L577.9,448.7 L578.6,452.5 L578.6,456.0 L577.9,459.3 L576.6,462.3 L574.6,464.9 L572.1,467.1 L569.0,468.9 L565.4,470.1 L561.4,470.9 Z" fill="#cdcdcd" stroke="#1a1a1a" stroke-width="1.4" stroke-linejoin="round"/>
<path d="M503.6,424.9 L503.6,421.4 L504.3,418.1 L505.6,415.1 L524.1,382.6 L526.1,380.0 L528.6,377.8 L531.7,376.0 L535.3,374.7 L539.4,374.0 L543.8,373.7 L548.5,374.0 L553.4,374.7 L558.4,376.0 L563.5,377.8 L568.5,380.0 L573.4,382.6 L578.1,385.6 L582.5,388.9 L586.5,392.4 L590.1,396.1 L593.2,400.0 L595.7,404.0 L597.7,407.9 L599.0,411.8 L599.6,415.6 L599.6,419.1 L599.0,422.4 L597.6,425.4 L579.1,457.9 L577.1,460.5 L574.6,462.7 L571.5,464.5 L567.9,465.8 L563.9,466.5 L559.5,466.8 L554.8,466.5 L549.9,465.8 L544.8,464.5 L539.8,462.7 L534.7,460.5 L529.8,457.9 L525.1,454.9 L520.7,451.6 L516.7,448.1 L513.1,444.3 L510.0,440.5 L507.5,436.5 L505.6,432.6 L504.2,428.7 Z" fill="#c4c4c4" stroke="#1a1a1a" stroke-width="1.5" stroke-linejoin="round"/>
<path d="M566.5,454.4 L561.8,454.2 L556.9,453.4 L551.9,452.1 L546.8,450.4 L541.8,448.2 L536.9,445.6 L532.2,442.6 L527.8,439.3 L523.8,435.7 L520.2,432.0 L517.1,428.1 L514.6,424.1 L512.6,420.2 L511.3,416.3 L510.7,412.5 L510.7,409.0 L511.3,405.7 L512.6,402.7 L514.6,400.1 L517.1,397.9 L520.2,396.2 L523.8,394.9 L527.9,394.1 L532.3,393.9 L536.9,394.1 L541.9,394.9 L546.9,396.2 L552.0,397.9 L557.0,400.1 L561.9,402.7 L566.6,405.7 L571.0,409.0 L575.0,412.5 L578.6,416.3 L581.7,420.2 L584.2,424.1 L586.2,428.1 L587.5,432.0 L588.1,435.7 L588.1,439.3 L587.5,442.6 L586.1,445.6 L584.2,448.2 L581.6,450.4 L578.6,452.1 L575.0,453.4 L570.9,454.2 Z" fill="none" stroke="#1a1a1a" stroke-width="1.6" stroke-linejoin="round"/>
<path d="M443.9,292.5 L443.9,288.9 L444.6,285.6 L445.9,282.6 L454.0,268.5 L455.9,265.9 L458.5,263.7 L461.6,261.9 L465.1,260.7 L469.2,259.9 L473.6,259.6 L478.3,259.9 L483.2,260.7 L488.2,261.9 L493.3,263.7 L498.3,265.9 L503.2,268.5 L507.9,271.5 L512.3,274.8 L516.3,278.3 L519.9,282.1 L523.0,286.0 L525.5,289.9 L592.9,408.9 L594.8,412.9 L596.1,416.8 L596.8,420.5 L596.8,424.1 L596.1,427.4 L594.8,430.4 L586.7,444.5 L584.8,447.1 L582.2,449.3 L579.2,451.1 L575.6,452.3 L571.5,453.1 L567.1,453.4 L562.4,453.1 L557.5,452.3 L552.5,451.1 L547.4,449.3 L542.4,447.1 L537.5,444.5 L532.8,441.5 L528.4,438.2 L524.4,434.7 L520.8,430.9 L517.7,427.0 L515.2,423.1 L447.8,304.1 L445.9,300.1 L444.6,296.2 Z" fill="#a8a8a8" stroke="#1a1a1a" stroke-width="1.6" stroke-linejoin="round"/>
<path d="M452.0,278.3 L452.0,274.8 L452.7,271.5 L454.0,268.5 L455.9,265.9 L458.5,263.7 L461.6,261.9 L465.1,260.7 L469.2,259.9 L473.6,259.6 L478.3,259.9 L483.2,260.7 L488.2,261.9 L493.3,263.7 L498.3,265.9 L503.2,268.5 L507.9,271.5 L512.3,274.8 L516.3,278.3 L519.9,282.1 L523.0,286.0 L525.5,289.9 L592.9,408.9 L594.8,412.9 L596.1,416.8 L596.8,420.5 L596.8,424.1 L596.1,427.4 L594.8,430.4 L592.9,433.0 L590.3,435.2 L587.2,436.9 L583.6,438.2 L579.6,439.0 L575.2,439.2 L570.5,439.0 L565.6,438.2 L560.6,436.9 L555.5,435.2 L550.5,433.0 L545.5,430.4 L540.9,427.4 L536.5,424.1 L532.4,420.5 L528.9,416.8 L525.8,412.9 L523.2,408.9 L455.9,289.9 L453.9,286.0 L452.6,282.1 Z" fill="url(#isoYoke)" stroke="#1a1a1a" stroke-width="1.6" stroke-linejoin="round"/>
<path d="M461.6,282.9 L461.9,281.3 L462.5,279.9 L465.4,275.0 L466.3,273.8 L467.4,272.8 L468.9,271.9 L470.6,271.4 L472.4,271.0 L474.5,270.9 L476.7,271.0 L478.9,271.4 L481.3,271.9 L483.6,272.8 L486.0,273.8 L488.3,275.0 L490.4,276.4 L492.5,277.9 L494.4,279.6 L496.0,281.3 L497.5,283.1 L498.6,285.0 L499.6,286.8 L500.2,288.6 L500.5,290.4 L500.5,292.0 L500.1,293.5 L499.5,294.9 L496.7,299.9 L495.8,301.1 L494.6,302.1 L493.2,302.9 L491.5,303.5 L489.6,303.9 L487.6,304.0 L485.4,303.9 L483.1,303.5 L480.8,302.9 L478.4,302.1 L476.1,301.1 L473.8,299.9 L471.6,298.5 L469.6,297.0 L467.7,295.3 L466.0,293.6 L464.6,291.8 L463.4,289.9 L462.5,288.1 L461.9,286.3 L461.6,284.5 Z" fill="#c0c0c0" stroke="#1a1a1a" stroke-width="1.3" stroke-linejoin="round"/>
<path d="M490.4,299.1 L488.2,298.9 L486.0,298.6 L483.6,298.0 L481.2,297.2 L478.9,296.1 L476.6,294.9 L474.4,293.5 L472.4,292.0 L470.5,290.4 L468.9,288.6 L467.4,286.8 L466.2,285.0 L465.3,283.1 L464.7,281.3 L464.4,279.6 L464.4,277.9 L464.7,276.4 L465.4,275.0 L466.3,273.8 L467.4,272.8 L468.9,272.0 L470.6,271.4 L472.4,271.0 L474.5,270.9 L476.7,271.0 L478.9,271.4 L481.3,272.0 L483.6,272.8 L486.0,273.8 L488.3,275.0 L490.4,276.4 L492.5,277.9 L494.4,279.6 L496.0,281.3 L497.5,283.1 L498.6,285.0 L499.5,286.8 L500.2,288.6 L500.5,290.4 L500.5,292.0 L500.2,293.5 L499.5,294.9 L498.6,296.1 L497.4,297.2 L496.0,298.0 L494.3,298.6 L492.5,298.9 Z" fill="#d0d0d0" stroke="#1a1a1a" stroke-width="1.3" stroke-linejoin="round"/>
<circle cx="482.4" cy="285.0" r="3.5" fill="#1a1a1a"/>
<path d="M529.0,401.9 L529.3,400.4 L529.9,399.0 L532.7,394.0 L533.6,392.8 L534.8,391.8 L536.2,391.0 L537.9,390.4 L539.8,390.0 L541.8,389.9 L544.0,390.0 L546.3,390.4 L548.6,391.0 L551.0,391.8 L553.3,392.8 L555.6,394.0 L557.8,395.4 L559.8,396.9 L561.7,398.6 L563.4,400.4 L564.8,402.1 L566.0,404.0 L566.9,405.8 L567.5,407.6 L567.8,409.4 L567.8,411.0 L567.5,412.6 L566.9,413.9 L564.1,418.9 L563.1,420.1 L562.0,421.1 L560.5,421.9 L558.9,422.6 L557.0,422.9 L554.9,423.0 L552.8,422.9 L550.5,422.6 L548.1,421.9 L545.8,421.1 L543.4,420.1 L541.1,418.9 L539.0,417.5 L536.9,416.0 L535.0,414.3 L533.4,412.6 L532.0,410.8 L530.8,408.9 L529.9,407.1 L529.3,405.3 L529.0,403.6 Z" fill="#c0c0c0" stroke="#1a1a1a" stroke-width="1.3" stroke-linejoin="round"/>
<path d="M557.8,418.1 L555.6,418.0 L553.3,417.6 L551.0,417.0 L548.6,416.2 L546.3,415.2 L544.0,414.0 L541.8,412.6 L539.7,411.0 L537.9,409.4 L536.2,407.6 L534.8,405.8 L533.6,404.0 L532.7,402.2 L532.1,400.3 L531.8,398.6 L531.8,397.0 L532.1,395.4 L532.7,394.0 L533.6,392.8 L534.8,391.8 L536.2,391.0 L537.9,390.4 L539.8,390.0 L541.8,389.9 L544.0,390.0 L546.3,390.4 L548.6,391.0 L551.0,391.8 L553.3,392.8 L555.6,394.0 L557.8,395.4 L559.8,397.0 L561.7,398.6 L563.4,400.3 L564.8,402.2 L566.0,404.0 L566.9,405.8 L567.5,407.6 L567.8,409.4 L567.8,411.0 L567.5,412.6 L566.9,414.0 L566.0,415.2 L564.8,416.2 L563.4,417.0 L561.7,417.6 L559.8,418.0 Z" fill="#d0d0d0" stroke="#1a1a1a" stroke-width="1.3" stroke-linejoin="round"/>
<circle cx="549.8" cy="404.0" r="3.5" fill="#1a1a1a"/>
<ellipse cx="532.2" cy="320.2" rx="5" ry="4" fill="#e8e8e8" stroke="#1a1a1a" stroke-width="1.2"/>
<ellipse cx="483.6" cy="320.2" rx="5" ry="4" fill="#e8e8e8" stroke="#1a1a1a" stroke-width="1.2"/>
<ellipse cx="566.0" cy="380.1" rx="5" ry="4" fill="#e8e8e8" stroke="#1a1a1a" stroke-width="1.2"/>
<ellipse cx="517.4" cy="380.1" rx="5" ry="4" fill="#e8e8e8" stroke="#1a1a1a" stroke-width="1.2"/>
<path d="M595.4,371.5 L595.4,371.4 L638.3,347.4 L638.4,347.5 L638.7,347.9 L639.1,348.5 L639.6,349.3 L640.1,350.4 L640.8,351.6 L641.6,352.9 L643.4,356.0 L644.3,357.7 L645.2,359.4 L646.2,361.2 L648.1,364.7 L649.0,366.4 L650.6,369.4 L651.3,370.7 L652.3,372.7 L652.7,373.5 L653.0,374.0 L653.1,374.3 L653.1,374.4 L610.2,398.4 L610.1,398.3 L609.8,397.9 L609.4,397.3 L608.3,395.4 L607.6,394.2 L606.9,392.9 L606.0,391.4 L605.1,389.8 L603.2,386.4 L602.3,384.6 L601.3,382.8 L600.4,381.1 L599.5,379.4 L598.7,377.9 L597.9,376.4 L597.2,375.1 L596.6,374.0 L596.1,373.1 L595.5,371.8 Z" fill="#a57a2e" stroke="#1a1a1a" stroke-width="1.4" stroke-linejoin="round"/><path d="M631.7,356.7 L631.7,355.4 L632.0,354.2 L632.4,353.2 L633.1,352.2 L634.1,351.4 L635.2,350.8 L636.5,350.3 L637.9,350.1 L639.5,350.0 L641.2,350.1 L643.0,350.3 L644.8,350.8 L646.6,351.4 L648.4,352.2 L650.2,353.2 L651.9,354.2 L653.5,355.4 L654.9,356.7 L656.2,358.1 L657.3,359.4 L658.2,360.9 L658.9,362.3 L659.4,363.7 L659.6,365.1 L659.6,366.3 L659.4,367.5 L658.9,368.6 L658.2,369.5 L657.3,370.3 L656.2,371.0 L654.9,371.4 L653.5,371.7 L651.9,371.8 L650.2,371.7 L648.4,371.4 L646.6,371.0 L644.8,370.3 L642.9,369.5 L641.2,368.6 L639.5,367.5 L637.9,366.3 L636.5,365.1 L635.2,363.7 L634.0,362.3 L633.1,360.9 L632.4,359.4 L632.0,358.1 Z" fill="#b88e3a" stroke="#1a1a1a" stroke-width="1.4" stroke-linejoin="round"/><path d="M559.9,391.2 L559.9,391.2 L595.5,371.4 L595.6,371.5 L595.9,371.9 L596.3,372.5 L596.8,373.3 L597.4,374.4 L598.0,375.5 L598.8,376.9 L599.6,378.4 L600.5,380.0 L602.4,383.4 L603.4,385.2 L605.3,388.7 L607.0,391.9 L607.7,393.4 L608.4,394.7 L609.0,395.8 L609.5,396.8 L609.8,397.5 L610.0,398.1 L610.1,398.4 L610.1,398.4 L574.5,418.2 L574.4,418.1 L574.1,417.7 L573.8,417.1 L573.3,416.3 L572.0,414.1 L571.2,412.7 L570.4,411.2 L569.5,409.6 L567.6,406.2 L566.6,404.4 L564.7,400.9 L563.9,399.2 L563.0,397.7 L562.3,396.2 L561.6,394.9 L561.0,393.8 L560.6,392.8 L560.2,392.1 L560.0,391.6 Z" fill="#d4d4d4" stroke="#1a1a1a" stroke-width="1.4" stroke-linejoin="round"/><path d="M596.7,379.8 L565.9,396.7" stroke="#555" stroke-width="1.3"/><path d="M599.1,384.1 L568.4,401.1" stroke="#555" stroke-width="1.3"/><path d="M601.6,388.5 L570.9,405.5" stroke="#555" stroke-width="1.3"/><path d="M604.1,392.9 L573.3,409.8" stroke="#555" stroke-width="1.3"/>
<g transform="matrix(0.81,0,-0.4035,0.7068,821.79,-380.53)"><g transform="rotate(0 136.8 1288)"><path d="M118,1200 L124,1190 L143.2,1190 L155.3,1275 L155.8,1487 A9.5,9.5 0 0 1 136.8,1487 Z" fill="#c29a44" stroke="#1a1a1a" stroke-width="1.5"/><rect x="121" y="1150" width="17" height="56" rx="6" fill="#c29a44" stroke="#1a1a1a" stroke-width="1.4"/><circle cx="112" cy="1168" r="7" fill="#222" stroke="#111" stroke-width="1"/></g></g><g transform="matrix(0.81,0,-0.4035,0.7068,825.38,-374.20)"><g transform="rotate(0 136.8 1288)"><path d="M118,1200 L124,1190 L143.2,1190 L155.3,1275 L155.8,1487 A9.5,9.5 0 0 1 136.8,1487 Z" fill="#7a5a22" stroke="#1a1a1a" stroke-width="1.5"/><rect x="121" y="1150" width="17" height="56" rx="6" fill="#a57a2e" stroke="#1a1a1a" stroke-width="1.4"/><circle cx="112" cy="1168" r="7" fill="#222" stroke="#111" stroke-width="1"/><g fill="#c8a040" stroke="#1a1a1a" stroke-width="1.3"><circle cx="135.2" cy="1248.4" r="6.5"/><circle cx="138.5" cy="1326.6" r="7"/><circle cx="140.1" cy="1358.7" r="7"/><circle cx="141.7" cy="1390.1" r="6.5"/><circle cx="143.3" cy="1422.1" r="6"/><circle cx="144.4" cy="1453.5" r="5.5"/></g><circle cx="136.8" cy="1288" r="11" fill="#b8b8b8" stroke="#1a1a1a" stroke-width="1.4"/><circle cx="136.8" cy="1288" r="6" fill="#3a3e48"/></g></g>
<path d="M455.9,268.1 L460.7,268.1 L478.3,299.3 L464.6,299.3 L446.9,268.1 L442.1,268.1 Z" fill="#a57a2e" stroke="#1a1a1a" stroke-width="1.4" stroke-linejoin="round"/>
<path d="M525.6,382.7 L542.8,413.1 L542.8,421.6 L534.9,435.4 L530.0,435.5 L516.2,435.5 L521.1,435.4 L529.0,421.6 L529.0,413.1 L511.8,382.7 Z" fill="#6e5020" stroke="#1a1a1a" stroke-width="1.4" stroke-linejoin="round"/>
<path d="M471.1,312.0 L518.3,395.4 L504.5,395.4 L457.3,312.0 Z" fill="#a57a2e" stroke="#1a1a1a" stroke-width="1.3" stroke-linejoin="round"/>
<path d="M463.6,313.0 L463.7,312.6 L463.8,312.2 L464.0,311.8 L464.3,311.3 L464.6,310.9 L465.0,310.5 L465.4,310.2 L465.9,309.8 L466.4,309.5 L466.9,309.2 L467.4,309.0 L468.0,308.8 L468.5,308.7 L469.0,308.6 L469.5,308.6 L469.9,308.6 L470.4,308.7 L470.8,308.8 L471.1,309.0 L471.3,309.2 L471.5,309.5 L514.2,384.9 L514.3,385.2 L514.4,385.5 L514.4,385.9 L514.3,386.3 L514.2,386.7 L514.0,387.1 L513.7,387.5 L513.4,387.9 L513.0,388.3 L512.6,388.7 L512.1,389.0 L511.6,389.4 L511.1,389.6 L510.6,389.9 L510.0,390.1 L509.5,390.2 L509.0,390.3 L508.5,390.3 L508.0,390.3 L507.6,390.2 L507.2,390.1 L506.9,389.9 L506.7,389.6 L506.4,389.4 L463.8,314.0 L463.7,313.7 L463.6,313.3 Z" fill="#d8d8d8" stroke="#1a1a1a" stroke-width="1.2" stroke-linejoin="round"/>
<path d="M446.9,268.1 L464.6,299.3 L457.3,312.0 L504.5,395.4 L511.8,382.7 L529.0,413.1 L529.0,421.6 L521.1,435.4 L516.2,435.5 L434.1,290.5 L434.2,281.8 L442.1,268.1 Z" fill="#c29a44" stroke="#1a1a1a" stroke-width="1.5" stroke-linejoin="round"/>
<ellipse cx="478.9" cy="357.2" rx="8" ry="9" fill="#2a2a2a" stroke="#111" stroke-width="1.2"/>
<path d="M480.2,362.5 L486.6,373.7 L482.6,380.8 L476.2,369.5 L491.6,362.5 L497.9,373.7 L486.6,373.7 L480.2,362.5 Z" fill="#a57a2e" stroke="#1a1a1a" stroke-width="1.0" stroke-linejoin="round"/>
<path d="M452.5,283.6 L392.5,293.6 Q380.5,297.6 386.5,309.6 L396.3,329.5" fill="none" stroke="#1a1a1a" stroke-width="2.2"/>
<path d="M520.2,403.3 L460.2,413.3 Q448.2,417.3 454.2,429.3 L464.0,449.2" fill="none" stroke="#1a1a1a" stroke-width="2.2"/>
</g><!--isoend-->
<g id="side">
<!-- wood base -->
<path d="M440.3,882 H487.3 V1661 H440.3 L433.6,1654 V889.4 Z" fill="#7a3418" filter="url(#wood)"/>
<path d="M440.3,882 H487.3 V1661 H440.3 L433.6,1654 V889.4 Z M440.3,882 V1661" fill="none" stroke="#2a1810" stroke-width="1.6"/>
<path d="M445,890 V1652 M483,890 V1652" stroke="#5a2410" stroke-width="1" opacity="0.6"/>
<path d="M495,882 H502.3 V940.2 H495 L487.3,932 V890 Z" fill="#7a3418" filter="url(#wood)"/>
<path d="M495,882 H502.3 V940.2 H495 L487.3,932 V890 Z M495,882 V940.2" fill="none" stroke="#2a1810" stroke-width="1.5"/>
<path d="M495,1604 H502.3 V1661 H495 L487.3,1653 V1611 Z" fill="#7a3418" filter="url(#wood)"/>
<path d="M495,1604 H502.3 V1661 H495 L487.3,1653 V1611 Z M495,1604 V1661" fill="none" stroke="#2a1810" stroke-width="1.5"/>
<!-- main black plate -->
<path d="M409,917.4 H433.6 V1625.6 H409 L405.5,1622 V921 Z" fill="#080808" stroke="#1a1a1a" stroke-width="1.5"/>
<path d="M409,918 V1625" stroke="#3a3a3a" stroke-width="1.2"/>
<!-- burner box -->
<rect x="299.8" y="955.8" width="105.7" height="127.4" fill="#a57a2e" stroke="#2a1e10" stroke-width="1.8"/>
<path d="M294.5,948.5 H300.3 V1091.3 H294.5 L291.8,1088.5 V951.3 Z" fill="#a57a2e" stroke="#2a1e10" stroke-width="1.6"/>
<path d="M296,950 V1090" stroke="#5a4418" stroke-width="0.8"/>
<rect x="286" y="958" width="6" height="43" fill="#8a6420" stroke="#2a1e10" stroke-width="1.3"/>
<path d="M270,950 H284 L287,954 V1005 L284,1009 H270 L266.8,1005 V954 Z" fill="#9a7028" stroke="#2a1e10" stroke-width="1.6"/>
<path d="M272,951 V1008 M281,951 V1008" stroke="#5a4418" stroke-width="1" opacity="0.7"/>
<!-- burner tube -->
<path d="M292,1033 L258.7,1066 L277,1086 L292,1076 Z" fill="#a57a2e" stroke="#2a1e10" stroke-width="1.6"/>
<path d="M258.7,1066 L232,1091 L246,1108 L277,1086 Z" fill="#d8d8d8" stroke="#2a2a2a" stroke-width="1.5"/>
<path d="M263,1071 L236,1096 M268,1076 L240,1101 M273,1081 L243,1105" stroke="#666" stroke-width="1.2"/>
<!-- shaft & cone housing -->
<rect x="265" y="1185.5" width="104.3" height="46.6" fill="url(#silverV)" stroke="#222" stroke-width="1.5"/>
<path d="M369.3,1170.7 L379.6,1163.9 V1253 L369.3,1245.4 Z" fill="url(#silverH)" stroke="#222" stroke-width="1.4"/>
<path d="M380.5,1160.4 L394.6,1147.4 V1269.4 L380.5,1257 Z" fill="url(#silverH)" stroke="#222" stroke-width="1.4"/>
<rect x="394.6" y="1137.5" width="11" height="142.2" fill="url(#silverH)" stroke="#222" stroke-width="1.4"/>
<!-- flywheel -->
<circle cx="221.5" cy="1492" r="113.4" fill="#e3ad2c" stroke="#1e1a10" stroke-width="2"/>
<circle cx="222" cy="1492" r="85" fill="none" stroke="#1e1a10" stroke-width="2"/>
<g fill="#fff" stroke="#1e1a10" stroke-width="2">
<circle cx="275.9" cy="1503.1" r="20"/><circle cx="239.1" cy="1544.6" r="20"/><circle cx="184.7" cy="1533.6" r="20"/><circle cx="167.1" cy="1481" r="20"/><circle cx="203.9" cy="1439.4" r="20"/><circle cx="258.3" cy="1450.4" r="20"/>
</g>
<!-- black plate 2 + standoffs -->
<g fill="url(#silverV)" stroke="#222" stroke-width="1.3">
<rect x="360" y="1388.2" width="36" height="22.2"/><rect x="395.7" y="1385.2" width="9.6" height="28.8" rx="2"/>
<rect x="360" y="1572.8" width="36" height="22.2"/><rect x="395.7" y="1569.5" width="9.6" height="29.2" rx="2"/>
</g>
<path d="M341,1377.5 H360.5 V1605.4 H341 L337.8,1602 V1381 Z" fill="#080808" stroke="#1a1a1a" stroke-width="1.5"/>
<path d="M341.5,1378 V1605" stroke="#3a3a3a" stroke-width="1.2"/>
<g fill="url(#silverV)" stroke="#222" stroke-width="1.3">
<rect x="275" y="1424.5" width="53" height="21.5"/><rect x="327.5" y="1420.8" width="10.3" height="28.9" rx="2"/>
<rect x="275" y="1538" width="53" height="20.7"/><rect x="327.5" y="1534.4" width="10.3" height="27.6" rx="2"/>
</g>
<!-- hub disc -->
<circle cx="165" cy="1491" r="20" fill="#b0b0b0" stroke="#1e1a10" stroke-width="1.8"/>
<circle cx="217" cy="1496" r="43" fill="#ababab" stroke="#1e1a10" stroke-width="1.8"/>
<path d="M239,1456.7 L257.3,1456 V1420.8 H275 V1562.4 H260 L257.3,1559 V1470 L239,1464 Z" fill="#a57a2e" stroke="#2a1e10" stroke-width="1.6"/>
<!-- lever silver disc -->
<circle cx="145" cy="1492" r="20" fill="#b4b4b4" stroke="#1e1a10" stroke-width="1.8"/>
<!-- cylinder -->
<path d="M179,1117.3 L265,1101 V1147 H179 Z" fill="url(#silverH)" stroke="#222" stroke-width="1.5"/>
<path d="M179,1129.5 H265" stroke="#222" stroke-width="2.2"/>
<rect x="195.2" y="1147" width="62.5" height="114" fill="url(#silverH)" stroke="#222" stroke-width="1.2"/>
<rect x="247" y="1150" width="10" height="110" fill="#1a1a1a"/>
<g fill="url(#silverH)" stroke="#222" stroke-width="1.5">
<rect x="179" y="1153.2" width="86" height="8.2"/><rect x="179" y="1167.4" width="86" height="8.2"/><rect x="179" y="1181.6" width="86" height="8.2"/><rect x="179" y="1195.8" width="86" height="8.2"/><rect x="179" y="1210" width="86" height="8.2"/><rect x="179" y="1224.2" width="86" height="8.2"/><rect x="179" y="1238.4" width="86" height="8.2"/><rect x="179" y="1252.6" width="86" height="8.2"/>
</g>
<!-- pivot shaft -->
<path d="M155.3,1281.5 H179.5 L186.8,1277.4 H202.9 V1273.4 H214.2 V1302.4 H202.9 V1297.6 H186.8 L179.5,1293.5 H155.3 Z" fill="url(#silverV)" stroke="#222" stroke-width="1.3"/>
<rect x="242.4" y="1261.3" width="15.3" height="58" fill="#0a0a0a" stroke="#1a1a1a" stroke-width="1"/>
<rect x="228.7" y="1263.7" width="13.7" height="50" fill="url(#silverH)" stroke="#222" stroke-width="1.2"/>
<!-- connecting rod -->
<path d="M214.2,1261 H228.7 L235.6,1505 H206 Z" fill="#a57a2e" stroke="#1e1a10" stroke-width="1.8"/>
<circle cx="221" cy="1526.3" r="23" fill="#a57a2e" stroke="#1e1a10" stroke-width="2"/>
<circle cx="221" cy="1526.3" r="17" fill="#6a5a40" stroke="#1e1a10" stroke-width="2"/>
<circle cx="221" cy="1526.3" r="12" fill="#a57a2e" stroke="#1e1a10" stroke-width="1.5"/>
<!-- lever -->
<path d="M143.2,1188.7 L166,1392 L155.8,1400 Z" fill="#a57a2e" stroke="#1e1a10" stroke-width="1.4"/>
<path d="M111,1192 L122,1188.7 L143.2,1188.7 L155.3,1275 L155.8,1487 A9.5,9.5 0 0 1 136.8,1487 Z" fill="#a57a2e" stroke="#1e1a10" stroke-width="1.8"/>
<path d="M120.6,1206.5 L133.5,1400" stroke="#1e1a10" stroke-width="1.3"/>
<rect x="108.7" y="1159.8" width="13.5" height="46.5" fill="#a57a2e" stroke="#1e1a10" stroke-width="1.4" transform="rotate(-3 115 1183)"/>
<rect x="122.3" y="1159.8" width="18" height="46.5" fill="#a57a2e" stroke="#1e1a10" stroke-width="1.6" transform="rotate(-3 131 1183)"/>
<rect x="101.6" y="1165" width="8" height="15.5" fill="#2a2a2a" stroke="#111" stroke-width="1"/>
<rect x="114" y="1160" width="8" height="18" fill="#2a3038"/>
<g fill="#fff" stroke="#1e1a10" stroke-width="1.8">
<circle cx="135.2" cy="1248.4" r="7.5"/><circle cx="138.5" cy="1326.6" r="8.5"/><circle cx="140.1" cy="1358.7" r="8"/><circle cx="141.7" cy="1390.1" r="7.5"/><circle cx="143.3" cy="1422.1" r="6.5"/><circle cx="144.4" cy="1453.5" r="6"/>
</g>
<circle cx="136.8" cy="1288" r="12" fill="#d0d0d0" stroke="#1e1a10" stroke-width="1.8"/>
<circle cx="136.8" cy="1288" r="7" fill="#3a3e48" stroke="#1e1a10" stroke-width="1"/>
<circle cx="146.4" cy="1489.3" r="6" fill="#c8c8d0" stroke="#1e1a10" stroke-width="1.8"/>
<!-- head bits -->
<rect x="164.2" y="1109.5" width="7.1" height="20" fill="#2a2e36" stroke="#111" stroke-width="1"/>
<path d="M179.7,1113 L236,1100 L237,1105 L179.7,1119 Z" fill="#9a9a9a" stroke="#1a1a1a" stroke-width="1.2"/><path d="M180,1111 L212,1097 M186,1110 L214,1096.5 M192,1109 L222,1097 M198,1108 L224,1098" stroke="#1a1a1a" stroke-width="1.6"/>
<rect x="171.3" y="1094.7" width="8.4" height="35.3" fill="#9a7028" stroke="#1e1a10" stroke-width="1.3"/>
<g fill="none" stroke="#1e1a10" stroke-width="2.6" stroke-linejoin="round">
<path d="M171,1110.2 L109.4,1119.2 C98,1121 96,1136 104.2,1139.8 L112.6,1140.5 L116.5,1159.8"/>
<path d="M171,1112.5 L119.7,1119.8 C110,1122 109,1136 118.4,1137.3 L126.8,1137.9 L130,1159.8"/>
</g>
</g>
<g id="top">
<rect x="716" y="882" width="391" height="779" fill="#7a3418" filter="url(#wood)"/>
<g fill="none" stroke="#2a1810">
<rect x="716.5" y="882.5" width="390" height="778" stroke-width="2"/>
<rect x="723.5" y="890" width="376" height="763" stroke-width="1.5" opacity="0.8"/>
</g>
<path d="M716,882 L723.5,890 M1107,882 L1099.5,890 M716,1661 L723.5,1653 M1107,1661 L1099.5,1653" stroke="#2a1810" stroke-width="1.2"/>
<rect x="752" y="918" width="319" height="707" fill="#070707" stroke="#2a2a2a" stroke-width="3"/>
<path d="M788,918 V950 M1035,918 V950 M756,921 V1621 M1067,921 V1621" stroke="#1e1e1e" stroke-width="1.5" fill="none"/>
<rect x="798" y="1379" width="227" height="226" fill="none" stroke="#2e2e2e" stroke-width="1.5"/>
<rect x="802" y="1383" width="219" height="218" fill="none" stroke="#1e1e1e" stroke-width="1"/>
<rect x="875" y="1130" width="72.5" height="188.5" fill="#060606" stroke="#2a2a2a" stroke-width="1.5"/>
<!-- burner box -->
<rect x="787.5" y="950.5" width="246" height="139.5" fill="#a77a2e" stroke="#2a1e10" stroke-width="2"/>
<rect x="791" y="954" width="239" height="132" fill="none" stroke="#5a4418" stroke-width="1"/>
<circle cx="911.5" cy="978.8" r="28.8" fill="none" stroke="#2a1e10" stroke-width="2"/>
<circle cx="911.5" cy="978.8" r="24.8" fill="none" stroke="#2a1e10" stroke-width="1.5"/>
<circle cx="911.5" cy="978.8" r="2.5" fill="#2a1e10"/>
<!-- cylinders left/right -->
<g id="cylL">
<path d="M853.5,1149 Q880,1208 853.5,1267 L875,1267 L875,1149 Z" fill="#c9c9c9" stroke="#222" stroke-width="1.2"/>
<rect x="784.5" y="1097" width="85" height="49" fill="url(#silverH)" stroke="#222" stroke-width="1.5"/><path d="M784.5,1128 H869.5" stroke="#222" stroke-width="1.5"/>
<rect x="800.5" y="1146" width="52" height="115" fill="url(#silverH)"/>
<g fill="url(#silverH)" stroke="#222" stroke-width="1.3">
<rect x="784.5" y="1154" width="85" height="6.5"/><rect x="784.5" y="1168.5" width="85" height="6.5"/><rect x="784.5" y="1183" width="85" height="6.5"/><rect x="784.5" y="1197.5" width="85" height="6.5"/><rect x="784.5" y="1212" width="85" height="6.5"/><rect x="784.5" y="1226.5" width="85" height="6.5"/><rect x="784.5" y="1241" width="85" height="6.5"/><rect x="784.5" y="1255.5" width="85" height="6.5"/>
</g>
</g>
<g transform="translate(1823,0) scale(-1,1)"><use href="#cylL"/></g>
<!-- hex nut -->
<circle cx="911" cy="1208" r="23.5" fill="#0a0a0a" stroke="#3a2a12" stroke-width="1.5"/>
<path d="M899,1188 L923,1188 L934,1208 L923,1228 L899,1228 L888,1208 Z" fill="#a77a2e" stroke="#2a1e10" stroke-width="1.5"/>
<!-- burner tubes -->
<g id="tubeL">
<path d="M811.5,1069 V1045 Q811.5,1031 826,1031 Q840.8,1031 840.8,1045 V1069 Z" fill="#a77a2e" stroke="#2a1e10" stroke-width="1.5"/>
<rect x="812.5" y="1069" width="27.5" height="25" fill="#e0e0e0" stroke="#2a2a2a" stroke-width="1.2"/>
<path d="M818,1070 V1093 M823.5,1070 V1093 M829,1070 V1093 M834.5,1070 V1093" stroke="#555" stroke-width="1.2"/>
</g>
<g transform="translate(170.8,0)"><use href="#tubeL"/></g>
<!-- crossbar -->
<path d="M808,1096 H852.3 V1114 H970.8 V1096 H1014 L1020,1102 V1121.5 L1014,1127.7 H808 L802,1121.5 V1102 Z" fill="#a77a2e" stroke="#2a1e10" stroke-width="1.8"/>
<rect x="856" y="1103" width="111" height="9" fill="#cfcfcf" stroke="#333" stroke-width="1"/>
<circle cx="911.5" cy="1119" r="9" fill="#555" stroke="#222" stroke-width="1.2"/>
<path d="M906,1112 L917,1126" stroke="#222" stroke-width="1.5"/>
<!-- wires -->
<path d="M826.4,1094 V1165 M995.8,1094 V1162" stroke="#1a1a1a" stroke-width="2"/>
<!-- rods -->
<path d="M853,1300 V1495 M970,1300 V1505 M853,1262 V1278 M970,1262 V1278" stroke="#2a2a2a" stroke-width="2.5"/>
<rect x="817.4" y="1162" width="18" height="46" fill="#a77a2e" stroke="#2a1e10" stroke-width="1.5"/>
<circle cx="826.4" cy="1173" r="7.5" fill="#444" stroke="#1a1a1a" stroke-width="1.5"/>
<rect x="823" y="1190" width="7" height="306" fill="#a77a2e" stroke="#2a1e10" stroke-width="1.2"/>
<rect x="986.8" y="1159.5" width="18" height="48.5" fill="#a77a2e" stroke="#2a1e10" stroke-width="1.5"/>
<circle cx="995.8" cy="1171" r="7.5" fill="#444" stroke="#1a1a1a" stroke-width="1.5"/>
<rect x="992.4" y="1190" width="7.5" height="310" fill="#a77a2e" stroke="#2a1e10" stroke-width="1.2"/>
<!-- crank shaft -->
<rect x="811.8" y="1279" width="197.5" height="18.2" fill="url(#silverV)" stroke="#222" stroke-width="1.3"/>
<circle cx="911" cy="1288.2" r="22.6" fill="#d0d0d0" stroke="#222" stroke-width="1.3"/>
<circle cx="911" cy="1288.2" r="18" fill="#a77a2e" stroke="#2a1e10" stroke-width="1.5"/>
<circle cx="911" cy="1288.2" r="5" fill="#f0f0f0" stroke="#222" stroke-width="1"/>
<circle cx="853" cy="1288.2" r="7" fill="#3c4048" stroke="#1a1a1a" stroke-width="1.2"/>
<circle cx="969.8" cy="1288.2" r="7" fill="#3c4048" stroke="#1a1a1a" stroke-width="1.2"/>
<rect x="804" y="1281" width="8" height="14" rx="3" fill="#4a5060"/>
<rect x="1009" y="1281" width="8" height="14" rx="3" fill="#4a5060"/>
<rect x="814" y="1276" width="9" height="24.6" fill="#a77a2e" stroke="#2a1e10" stroke-width="1"/>
<rect x="830" y="1276" width="8" height="24.6" fill="#a77a2e" stroke="#2a1e10" stroke-width="1"/>
<rect x="983" y="1276" width="9" height="24.6" fill="#a77a2e" stroke="#2a1e10" stroke-width="1"/>
<rect x="999" y="1276" width="8" height="24.6" fill="#a77a2e" stroke="#2a1e10" stroke-width="1"/>
<rect x="903" y="1307" width="16" height="9" rx="3" fill="#4a5060"/>
<!-- flywheel & bearings -->
<rect x="887" y="1379" width="48.7" height="225" fill="url(#brassFly)" stroke="#1a1a1a" stroke-width="1.3"/>
<g id="brgL">
<rect x="863" y="1420.4" width="23" height="142" fill="#a77a2e" stroke="#2a1e10" stroke-width="1.5"/>
<path d="M863,1457 H886 M863,1466.5 H886 M863,1516 H886 M863,1527 H886" stroke="#2a1e10" stroke-width="1.5"/>
<circle cx="874.5" cy="1434.6" r="9.5" fill="#6a6c72" stroke="#222" stroke-width="1.5"/><circle cx="874.5" cy="1434.6" r="5.5" fill="#3a3c44"/>
<circle cx="874.5" cy="1548" r="9.5" fill="#6a6c72" stroke="#222" stroke-width="1.5"/><circle cx="874.5" cy="1548" r="5.5" fill="#3a3c44"/>
</g>
<g transform="translate(74.5,0)"><use href="#brgL"/></g>
<rect x="838" y="1442.6" width="12.6" height="87" fill="url(#silverH)" stroke="#222" stroke-width="1"/><path d="M838,1450.0 H850.6 M838,1458.0 H850.6 M838,1466.0 H850.6 M838,1474.0 H850.6 M838,1482.0 H850.6 M838,1490.0 H850.6 M838,1498.0 H850.6 M838,1506.0 H850.6 M838,1514.0 H850.6 M838,1522.0 H850.6 " stroke="#555" stroke-width="1.5"/>
<rect x="850.6" y="1472" width="11" height="38" fill="#bbb" stroke="#222" stroke-width="1"/>
<rect x="807" y="1441" width="11.6" height="31" rx="2" fill="#3a3024" stroke="#1a1a1a" stroke-width="1"/><path d="M809,1447 H816 M809,1452 H816 M809,1457 H816 M809,1462 H816 M809,1467 H816" stroke="#b08a3a" stroke-width="1.3"/>
<rect x="818.6" y="1432" width="13" height="65" fill="#a77a2e" stroke="#2a1e10" stroke-width="1"/>
<rect x="831" y="1480" width="7" height="16" fill="#ddd"/>
<rect x="973" y="1453" width="11.5" height="88" fill="url(#silverH)" stroke="#222" stroke-width="1"/><path d="M973,1461.0 H984.5 M973,1469.0 H984.5 M973,1477.0 H984.5 M973,1485.0 H984.5 M973,1493.0 H984.5 M973,1501.0 H984.5 M973,1509.0 H984.5 M973,1517.0 H984.5 M973,1525.0 H984.5 M973,1533.0 H984.5 " stroke="#555" stroke-width="1.5"/>
<rect x="961" y="1472" width="12" height="40" fill="#bbb" stroke="#222" stroke-width="1"/>
<rect x="984.5" y="1482" width="6" height="15" fill="#ddd"/>
<rect x="990.7" y="1499" width="12.3" height="52" fill="#a77a2e" stroke="#2a1e10" stroke-width="1"/>
<rect x="1004" y="1512" width="11.6" height="30" rx="2" fill="#3a3024" stroke="#1a1a1a" stroke-width="1"/><path d="M1006,1518 H1013 M1006,1523 H1013 M1006,1528 H1013 M1006,1533 H1013 M1006,1538 H1013" stroke="#b08a3a" stroke-width="1.3"/>
</g>
<!-- DIMENSIONS -->
<g id="dims" stroke="#33449a" fill="#33449a">
<path fill="none" stroke-width="2" d="M681,884 V1660 M668,883 H711 M668,1661.5 H711 M716,1689 H1106 M716,1667 V1702 M1106,1667 V1702 M221,1490 V1692 M221,1679 H501.5 M501.5,1666 V1692"/>
<path stroke="none" d="M681,883 L677,896 L685,896 Z M681,1661 L677,1648 L685,1648 Z M716,1689 L729,1685 L729,1693 Z M1106,1689 L1093,1685 L1093,1693 Z M221,1679 L235,1675 L235,1683 Z M501.5,1679 L487.5,1675 L487.5,1683 Z"/>
</g>
<text transform="translate(672,1272.5) rotate(-90)" text-anchor="middle" font-size="16.5">220</text>
<text transform="translate(911,1697.5) rotate(180)" text-anchor="middle" font-size="16.5">110</text>
<text transform="translate(361.4,1687.7) rotate(180)" text-anchor="middle" font-size="16.5">79</text>
<!-- TITLE BLOCK -->
<g fill="none" stroke="#1a1a1a" stroke-width="2">
<path d="M974,30 V620 H1209 M1062,30 V620 M1180,30 V620 M974,450 H1180 M1062,291 H1180 M1101,30 V450 M1142,30 V450 M1119,450 V620"/>
</g>
<g id="tbtext">
<text transform="translate(1007.6,248.8) rotate(-90)" text-anchor="middle" font-size="28.5" font-weight="bold" textLength="296.5" lengthAdjust="spacingAndGlyphs">Duo Vlamhapper MK2</text>
<text transform="translate(1044,235.2) rotate(-90)" text-anchor="middle" font-size="28.5" font-weight="bold" textLength="366.1" lengthAdjust="spacingAndGlyphs">2-cylinder Flame-eater MK2</text>
<text transform="translate(1088.5,161.7) rotate(-90)" text-anchor="middle" font-size="21.5" textLength="221.2" lengthAdjust="spacingAndGlyphs">Org. date: Jan-29-2014</text>
<text transform="translate(1127.8,161.3) rotate(-90)" text-anchor="middle" font-size="21.5" textLength="205.0" lengthAdjust="spacingAndGlyphs">Update: July-24-2016</text>
<text transform="translate(1170.9,161.7) rotate(-90)" text-anchor="middle" font-size="21.5" textLength="250.4" lengthAdjust="spacingAndGlyphs">Blad/Sheet: 1 van/from 10</text>
<text transform="translate(1090.2,378.3) rotate(-90)" text-anchor="middle" font-size="21.5" textLength="98.4" lengthAdjust="spacingAndGlyphs">Units: mm</text>
<text transform="translate(1127.7,376.4) rotate(-90)" text-anchor="middle" font-size="21.5" textLength="106.9" lengthAdjust="spacingAndGlyphs">Format: A4</text>
<text transform="translate(1168.3,371.0) rotate(-90)" text-anchor="middle" font-size="21.5" textLength="149.0" lengthAdjust="spacingAndGlyphs">Scale: no scale</text>
<text transform="translate(1081.3,535.9) rotate(-90)" text-anchor="middle" font-size="21.5" textLength="128.7" lengthAdjust="spacingAndGlyphs">Ontw./Design</text>
<text transform="translate(1112.2,533.9) rotate(-90)" text-anchor="middle" font-size="28.5" font-weight="bold" textLength="140.3" lengthAdjust="spacingAndGlyphs">J. Ridders</text>
<text transform="translate(1140.3,536.2) rotate(-90)" text-anchor="middle" font-size="21.5" textLength="106.5" lengthAdjust="spacingAndGlyphs">Get./Drawn</text>
<text transform="translate(1172.2,535.8) rotate(-90)" text-anchor="middle" font-size="28.5" font-weight="bold" textLength="138.5" lengthAdjust="spacingAndGlyphs">J. Ridders</text>
<text transform="translate(1201.3,492.8) rotate(-90)" text-anchor="middle" font-size="21.5" textLength="122" lengthAdjust="spacingAndGlyphs">Beschrijving</text>
<text transform="translate(1201.3,420.5) rotate(-90)" text-anchor="middle" font-size="21.5">/</text>
<text transform="translate(1201.3,340.2) rotate(-90)" text-anchor="middle" font-size="21.5" textLength="146" lengthAdjust="spacingAndGlyphs">Description in:</text>
<text transform="translate(1201.3,164.4) rotate(-90)" text-anchor="middle" font-size="21.5" textLength="154.2" lengthAdjust="spacingAndGlyphs">www.ridders.nu</text>
<text transform="translate(1019.4,573.0) rotate(-90)" text-anchor="middle" font-size="42" font-weight="bold">J</text>
<text transform="translate(1045.5,499.0) rotate(-90)" text-anchor="middle" font-size="42" font-weight="bold">R</text>
</g>
</svg>
</body></html>
